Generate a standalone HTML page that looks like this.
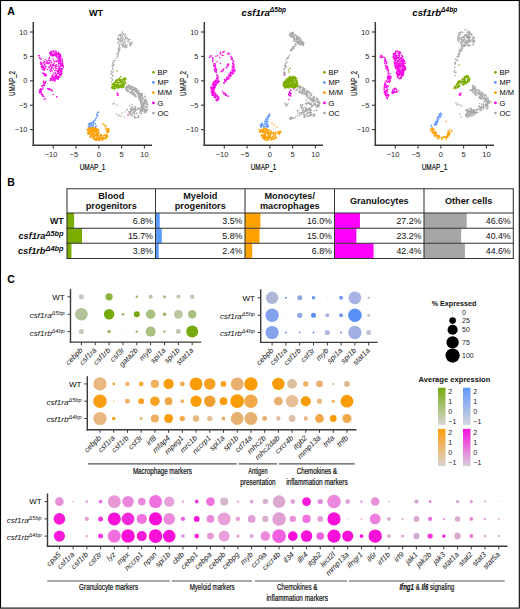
<!DOCTYPE html>
<html><head><meta charset="utf-8"><title>Figure</title>
<style>
html,body{margin:0;padding:0;background:#fff;}
svg{display:block;font-family:"Liberation Sans", sans-serif;}
</style></head><body>
<svg width="520" height="609" viewBox="0 0 520 609">
<rect x="0" y="0" width="520" height="609" fill="#fff"/>
<path d="M122.02 33.99h0M125.31 37.53h0M117.9 39.87h0M117.58 38.66h0M123.58 45.14h0M118.92 35.18h0M126.73 47.14h0M125.95 38.05h0M121.78 44.97h0M119.8 41.1h0M126.9 37.64h0M127.55 38.56h0M121.87 41.16h0M124.02 36.45h0M129.31 43.03h0M120.78 40.98h0M125.14 45.94h0M123.48 43.99h0M119.36 39.57h0M128.85 40.95h0M127.78 41.31h0M125.99 39.03h0M124.35 42.46h0M117.94 43.07h0M122.98 42.53h0M117.35 39.12h0M119 35.59h0M123.06 45.88h0M118.25 38.91h0M125.52 46.08h0M129.7 45.76h0M121.32 38.35h0M122.56 46.09h0M119.73 35.33h0M120.62 39.5h0M126.13 35.84h0M122.72 40.84h0M131.77 42.89h0M124.99 41.69h0M130.94 44.37h0M130.55 44.66h0M123.08 38.08h0M118.6 41.97h0M120.24 34.18h0M122.27 32.37h0M118.57 37.5h0M120.91 37.23h0M122.64 33.53h0M124.22 39.48h0M122.31 35.87h0M125.19 33.92h0M125.19 47.65h0M130.38 42.99h0M121.05 37.55h0M119.59 44.24h0M125.26 44.35h0M122.11 35.18h0M130.22 44.8h0M129.68 43.71h0M120.51 40.04h0M122.51 31.98h0M121.02 42.93h0M120.42 35.24h0M120.05 34.87h0M126.67 46.36h0M130.03 39.41h0M127.12 44.69h0M118.31 42.4h0M131.1 44.41h0M128.63 39.39h0M119.77 44.52h0M122.15 44.71h0M123.22 47.12h0M131.03 44.81h0M119.27 45.14h0M132.19 42.34h0M122.43 40.55h0M132.05 42.22h0M125.16 46.9h0M123.72 45.88h0M120.9 36.33h0M120.73 41.18h0M121.02 38.41h0M122.48 39.06h0M126.04 46.42h0M123.52 46.64h0M124.78 40.28h0M123.82 34.52h0M119.27 46.91h0M118.31 53.04h0M111.87 71.96h0M115.91 58.09h0M112.55 65.79h0M118.69 50.65h0M117.69 55.82h0M111.98 73.7h0M112.56 66.03h0M112.14 78.81h0M112.79 67.96h0M113.07 64.29h0M113.87 62.23h0M112.73 62.95h0M111.3 70.88h0M112.58 79.89h0M112.14 65.86h0M112.87 76.17h0M118.83 51.26h0M119.75 49.7h0M118.77 49.4h0M111.05 74.13h0M117.9 52.26h0M113.31 69.84h0M110.88 77.73h0M116.71 54.15h0M114.8 60.47h0M111.2 81.63h0M118.5 52.68h0M113.88 64.58h0M118.46 53.96h0M113.15 72.11h0M113.36 65.9h0M120.18 47.75h0M112.7 68.37h0M118.15 48.85h0M110.87 74.29h0M119.39 50.77h0M118.91 48.16h0M117.65 56.69h0M113.5 60.8h0M112.58 75.41h0M129.66 92.13h0M140.71 99.21h0M130 85.76h0M144.21 101.74h0M127.17 91.27h0M141.1 100.94h0M127.74 90.88h0M127.18 90.71h0M139.99 94.54h0M139.07 99.64h0M135.59 89.23h0M142.47 96.11h0M130.36 86.69h0M128.38 86.2h0M136.26 91.06h0M145.97 104.23h0M141.93 94.75h0M138.75 90.43h0M135.49 88.24h0M143.93 103.49h0M132.04 89.92h0M145.97 111.23h0M144.97 106.26h0M138.74 98.07h0M137.66 94.04h0M140.55 103.1h0M134.85 94.59h0M143.05 102.85h0M138.7 93.47h0M128.69 85.79h0M127.62 89.97h0M135.11 89.22h0M127.8 90.79h0M143.42 107.5h0M135.6 90.15h0M135.14 91.65h0M131.21 89.18h0M132.46 94.14h0M142.63 111.01h0M131.89 93.84h0M136 91.33h0M126.34 86.74h0M139.77 95.87h0M132.27 90.3h0M126.77 86.03h0M129.12 87.99h0M128.57 84.93h0M136.29 90.49h0M141.98 98.93h0M143.44 104.31h0M141.57 103.75h0M138.41 93.01h0M144.93 112.63h0M143.22 103.43h0M126.52 90.24h0M143.36 108.29h0M142.22 104.16h0M130.37 89.43h0M138.62 97.91h0M142.22 105.78h0M139.88 100.37h0M142.39 102.23h0M134.83 87.97h0M130.6 88.29h0M128.47 91.02h0M140.88 98.57h0M141.93 100.68h0M142.46 93.59h0M142.76 105.54h0M140.3 96.65h0M146.22 99.93h0M145.93 102.87h0M128.98 86.92h0M146.15 102.52h0M141.22 104.75h0M140.82 95.68h0M139.04 96.92h0M143.68 104.48h0M145.94 99.43h0M131.33 87.78h0M145.67 103.21h0M144.57 96.33h0M128.53 86.77h0M142.27 101.88h0M144.94 101.01h0M140.98 96.74h0M141.34 93.67h0M146.01 109.68h0M140.1 109.96h0M126.66 87.46h0M141.22 106.3h0M140.21 94.07h0M130.95 93.11h0M132.28 90.93h0M130.45 89.46h0M145.52 111.7h0M144.44 106.31h0M142.96 107.89h0M131.75 93.2h0M142.28 93.63h0M126.14 87.49h0M140.09 94.28h0M130.88 88.28h0M134.45 94.35h0M125.4 89.15h0M147.16 106.96h0M142.29 109.08h0M145.32 109.64h0M137.65 92.97h0M141.96 111.68h0M137.19 92.89h0M136.1 88.87h0M128.37 90.97h0M133.21 94.38h0M134.56 89.72h0M142.43 95.47h0M135.06 95.94h0M142.32 107.47h0M140.32 101.1h0M143.1 110.03h0M147.05 101.82h0M144.58 103.22h0M143.55 104.35h0M136.42 89.07h0M145.96 110.92h0M140.44 94.98h0M134.27 93.42h0M144.36 112.02h0M144.64 100.4h0M142.19 97.59h0M132.52 87.65h0M131.03 92.83h0M141.66 94.9h0M140.83 107.57h0M140.82 93.41h0M133.51 87.67h0M138.28 90.7h0M134.28 89.5h0M139.63 99.94h0M145.03 103.68h0M138.11 94.6h0M138.03 92.79h0M128.55 86.84h0M145.34 112.18h0M139.77 97.04h0M146.49 107.77h0M135.26 90h0M138.11 93.87h0M141.02 109.5h0M147.44 109.6h0M126.48 89.27h0M144.27 108.89h0M145.03 96.82h0M135.66 96.2h0M142.01 106.49h0M144.5 111.94h0M130.37 86.64h0M139.85 97.79h0M142.01 109.51h0M141.49 101.26h0M139.1 95.73h0M126.52 89.84h0M131.71 93.35h0M144.49 100.07h0M130.72 87.52h0M141.8 100.75h0M130.69 86.14h0M140.46 97.44h0M138.85 92.44h0M145.25 97.25h0M135.39 91.81h0M142.22 110.29h0M144.44 108.51h0M134.19 89.35h0M141.82 110.15h0M137.14 89.28h0M139.57 97.31h0M139.51 93.34h0M140.68 102.3h0M134.73 87.93h0M136.65 92.33h0M145.63 101h0M142.83 105.52h0M142.22 95.36h0M144.14 111.67h0M146.38 106.3h0M131.95 92.2h0M133.42 94.64h0M141.77 94.7h0M133.25 90.17h0M140.5 102.29h0M130.94 88.67h0M130.93 93.33h0M131.68 86.39h0M128.19 87.57h0M141.66 107.68h0M141 104.58h0M144.62 110.44h0M130.27 92.62h0M147.49 102.64h0M144.23 100.86h0M137.98 92.68h0M133.15 86.73h0M135.14 90.77h0M145.54 111.81h0M144.88 111.82h0M135.26 94.85h0M144.97 106.37h0M127.64 87.95h0M135.22 95.73h0M132.55 89.32h0M147.02 110.31h0M136.69 96.04h0M147.72 104.47h0M128.25 85.1h0M145.25 110.31h0M141.82 104.8h0M137.36 91.58h0M142.42 110.34h0M133.31 92.65h0M136.49 90.96h0M125.46 89.21h0M142.94 109.02h0M146.35 111.75h0M133.35 90.71h0M140.32 109.25h0M138.68 92.55h0M138.66 94.81h0M145.59 110.79h0M142.83 105.7h0M142.59 106.4h0M143.56 98.71h0M136.27 91.54h0M147.45 105.01h0M131.27 91.73h0M135.22 88.48h0M126.94 88.27h0M134.23 95.36h0M141.23 106.9h0M135.67 88.9h0M129.07 88.72h0M144.33 102.49h0M133.57 90.36h0M141.85 100.49h0M142.17 104.7h0M145.92 100.23h0M145.94 107.02h0M142.5 97.77h0M146.29 102.79h0M134.57 89.56h0M129.88 91.95h0M142.99 97.9h0M135.48 96.65h0M142.12 95.53h0M143.43 105.91h0M145.13 112.97h0M138.3 97.53h0M141.6 107.01h0M127.82 86.67h0M130.6 87h0M141.65 113.29h0M140.26 111.61h0M132.38 115.72h0M136.75 113.75h0M131.83 110.61h0M132.31 113.49h0M137.47 108.54h0M137.82 108.31h0M133.06 108.54h0M139.34 112.85h0M134.14 112.88h0M131.13 114.69h0M134.33 109.54h0M133.06 113.08h0M133.64 111.21h0M133.73 108.47h0M138.46 108.55h0M134.51 116.25h0M134.28 117.04h0M134.99 108.03h0M129.19 112.89h0M137.33 117.37h0M130.16 113.78h0M133.82 112.31h0M130.9 109.54h0M135.78 117.57h0M130.41 112.13h0M135.28 106.67h0M141.04 110.85h0M140.75 113.75h0M139.22 108.78h0M134.26 116.58h0M131.84 111h0M135.73 110.79h0M138.42 117.22h0M129.53 113.03h0M136.79 112.88h0M137.15 109.83h0M134.46 113.28h0M134.53 114.24h0M134.81 111.48h0M129.3 113.74h0M135.36 108.94h0M138.93 115.75h0M134.96 108.24h0M135.15 107.34h0M130.67 111.38h0M130.19 111.52h0M135.63 106.51h0M138.54 115.72h0M135.65 106.68h0M135.55 110.72h0M138.52 116.19h0M135.39 117.96h0M138.83 107.98h0M135.53 117.5h0M131.71 109.29h0M135.58 109.99h0M137.84 117.19h0M131.19 115.81h0M126.92 109.31h0M131.09 107.6h0M132.98 109.55h0M130.64 112.83h0M131.04 107.94h0M132.38 106.65h0M133.92 109.77h0M128.88 111.65h0M129.54 105.77h0M131.95 104.48h0M132.56 106.54h0M130.69 110.64h0M130.93 108.32h0M130.1 112.96h0M113 104h0M114 103.5h0M117 105h0M116.5 114h0M118 116h0M119.5 115h0M122 113h0M125 112h0M127 110h0M121 116h0M124 117h0" stroke="#a8a8a8" stroke-width="1.48" stroke-linecap="round" fill="none"/>
<path d="M121.12 76.79h0M114.48 84.09h0M120.13 79.15h0M120.67 82.67h0M113.09 88.68h0M112.48 84.8h0M117.23 79.94h0M119.72 81.05h0M121.01 82.27h0M114.85 88.25h0M117.29 79.59h0M111.9 86.63h0M125.58 78.35h0M114.09 84.41h0M118.86 84.84h0M123.61 78.77h0M115.8 80.4h0M111.75 88.06h0M123.14 85.8h0M122.55 82.55h0M122.5 82.38h0M116.2 86.25h0M121.77 87.49h0M122.03 79.96h0M119.58 82.17h0M123.22 83.3h0M115.11 84.85h0M125.96 79.32h0M122.57 80.75h0M124.64 80.77h0M114.71 88.3h0M120.78 85.51h0M118.28 87.42h0M121.81 87.65h0M117.78 85.92h0M119.84 80.5h0M114.29 84.59h0M112.21 88.34h0M112.65 88.58h0M121.74 84.74h0M121.8 86.08h0M112.02 84.18h0M116.63 87.13h0M112.02 87.78h0M124.14 87.06h0M120.83 87.23h0M120.79 80.24h0M122.74 79.16h0M115.95 82.01h0M115.38 85.8h0M116.7 80.67h0M125.94 83.05h0M124.2 84.54h0M117.76 86.55h0M116.38 85.66h0M119.34 79.32h0M124.36 77.68h0M123.71 78.71h0M118.62 86.86h0M113.86 82.93h0M116.38 87.31h0M115.04 88.77h0M121.84 82.98h0M112.7 84.77h0M112.25 86.74h0M121.81 86.73h0M120.73 81.12h0M117.22 81.63h0M124.97 83.02h0M116.88 87.99h0M114.62 82.49h0M119.24 86.31h0M122.67 84.9h0M116.4 80.75h0M113.41 87.46h0M121.26 86.15h0M122.99 84.03h0M124.72 79.59h0M121.9 87.47h0M119.09 78.59h0M122.37 82.15h0M114.04 84.79h0M117.18 86.78h0M121.75 83.01h0M120.8 82.52h0M113.2 84.35h0M117.27 86.13h0M125.07 82.09h0M119.9 86.24h0M117.53 79.47h0M123 85.6h0M124.21 85.33h0M120.94 82.4h0M115.85 84.67h0M123.13 85.77h0M120.76 79.75h0M117.57 82.42h0M120.63 81.82h0M113.84 85.01h0M123.06 81.55h0M113.49 86.66h0M125.58 83.25h0M112.57 83.97h0M119.39 85.82h0M118.94 84.81h0M123.85 83.28h0M114.26 85.4h0M117.08 86.42h0M115.25 81.7h0M117.52 85.58h0M116.46 79.95h0M114.48 86.14h0M125.57 83.35h0M114.39 86.92h0M113 86.6h0M123.55 84.75h0M118.27 83.81h0M114.5 89.03h0M116.47 84.8h0M123.69 87.11h0M118.26 80.33h0M119.5 78.13h0M123.92 81.11h0M124.19 79.98h0M116.83 79.8h0M115.68 82.73h0M117.64 84.78h0M121.22 81.21h0M111.88 87.26h0M113.18 87.31h0M120.81 76.69h0M121.17 79.75h0M114.62 86.59h0M113.6 88.08h0M120.43 86.66h0M123.22 87.4h0M114.06 85.51h0M119.23 86.14h0M117.8 87.97h0M119.6 79.94h0M118.62 82.98h0M119.36 87.72h0M118.25 83.81h0M121.31 87.43h0M116.81 81.94h0M120.87 84.77h0M118.91 82.8h0M122.13 84.63h0M116.25 87.7h0M116.68 82.67h0M117 71h0" stroke="#7aad00" stroke-width="1.48" stroke-linecap="round" fill="none"/>
<path d="M59.7 66.74h0M57.92 54.78h0M60.57 62.65h0M57.33 78.31h0M56.9 77.98h0M62.1 65.87h0M58.72 65.98h0M58.69 71.45h0M60.93 58.72h0M59.25 58.03h0M58.92 70.7h0M51.87 54.75h0M54.54 78.6h0M51.54 52.72h0M49.72 52.82h0M53.08 78.81h0M58.67 71.59h0M53.52 78.64h0M59.83 70.17h0M59 73.16h0M60.94 73.32h0M60.07 72.34h0M59.72 77.01h0M58.44 52.59h0M56.5 74.76h0M60.65 71.99h0M55.67 76.61h0M62.08 68.48h0M60.03 57.84h0M60.24 58.47h0M58.16 70.79h0M52.17 53.85h0M50.85 52.04h0M56.75 76.91h0M53.46 79.51h0M50.34 53.6h0M58.62 68.85h0M51.11 78.48h0M62.67 61.99h0M61.49 71.74h0M56.23 51.4h0M50.48 55.06h0M54.28 55.69h0M53.03 55h0M55.33 51.25h0M60.2 74.68h0M60.22 75.3h0M52.34 54.84h0M57.58 73.3h0M60.73 75.36h0M59.33 70.54h0M58.92 64.14h0M57.35 57.8h0M61.25 75.03h0M50.8 54.78h0M58.34 78.71h0M58.8 58.73h0M56.11 55.49h0M63.11 65.17h0M60.2 60.49h0M60.07 63.38h0M55.33 55.05h0M59.84 60.36h0M60.68 70.92h0M59.28 61.34h0M53.09 77.89h0M61.87 68.63h0M53.06 55.6h0M57.87 72.98h0M59.66 59.29h0M52.07 77.05h0M61.46 69.94h0M59.01 63.1h0M59.72 60.92h0M58.72 69.28h0M57.87 77.76h0M49.67 53.21h0M60.42 62.68h0M55.48 76.08h0M52.14 55.22h0M55.67 76.02h0M61.91 68.85h0M55.4 76.95h0M57.78 72.13h0M62.2 58.9h0M59.57 67.87h0M56.56 55.55h0M52.26 80.45h0M59.69 69.73h0M62.41 64.33h0M58.09 57.1h0M57.66 76.73h0M53.06 54.7h0M59 76.87h0M58.93 68.42h0M54.59 78.7h0M60.57 64.78h0M58.13 53.34h0M56.16 54.83h0M60.23 60.29h0M60.65 61.84h0M56.1 51.51h0M50.3 78.58h0M53.93 54.01h0M58.87 77.57h0M61.33 69.75h0M63.3 66.5h0M52.07 56.05h0M55.37 78.6h0M62.01 68.68h0M58.12 76.46h0M53 77.93h0M55.14 75.93h0M60.49 54.65h0M58.51 53.64h0M53.52 51.1h0M59.27 67.59h0M58.85 64.05h0M54.42 81.11h0M61.08 69.72h0M54.21 55.64h0M58.72 56.43h0M58.06 70.72h0M60.32 72.56h0M62.58 63.45h0M52.85 76.61h0M59.57 53.74h0M59.48 55.77h0M53.3 77.22h0M57.93 79.41h0M56.91 75.77h0M57.87 70.92h0M51.51 51.93h0M56.56 74.67h0M60.62 73.01h0M59.46 69.04h0M54.15 52.54h0M60.68 55.63h0M62.59 64.97h0M59.69 54.57h0M61.87 73.58h0M60.44 74.69h0M52.06 55.73h0M56.5 56.75h0M54.68 76.8h0M55.41 53.36h0M53.33 55.34h0M55.71 77.7h0M61.74 63.72h0M56.76 77.61h0M61.97 71.18h0M59.51 53.8h0M58.91 73.88h0M55.26 55.39h0M59.54 56.5h0M56.18 52.63h0M56.84 78.56h0M56.48 53.75h0M58.13 59.3h0M53.97 55.7h0M52.79 55.3h0M61.14 72.86h0M62.03 64.82h0M60.34 55.8h0M58.2 60.61h0M51.56 76.26h0M53.87 52.32h0M54.94 80.95h0M59.86 74.84h0M50.11 80.45h0M57.68 77.56h0M55.79 51.25h0M56.34 77.72h0M57.21 54.07h0M54.09 80.44h0M62.55 68.98h0M55.91 55.05h0M60.52 74.48h0M52.3 51.35h0M60.52 70.01h0M60.57 56.41h0M59.49 69.91h0M56.69 76.93h0M58.93 53.28h0M59.26 74.86h0M60.99 75.11h0M57.6 77.69h0M54.88 76.93h0M63.33 65.44h0M53.72 79.25h0M55.51 79.68h0M55.87 55.42h0M62.16 60.22h0M60.12 60.64h0M50.21 54.33h0M60.87 63.56h0M54.44 54.49h0M55.55 76.17h0M59.03 59.07h0M59.43 61.14h0M52.92 55.14h0M52.09 78.92h0M60.85 66.25h0M63.3 67.22h0M50.99 79.79h0M58.24 52.85h0M57.75 57.2h0M50.46 52.07h0M60.73 74.02h0M50.83 54.5h0M60.7 68.73h0M61.08 74.33h0M54.86 77.61h0M51.08 51.98h0M61 65.46h0M61.03 56.47h0M62.47 61.74h0M58.98 68.93h0M55.6 54h0M60.11 75.83h0M55.04 76.22h0M61.04 61.24h0M56.15 77.95h0M58.59 61.82h0M58.49 76.67h0M59.1 55.28h0M58.6 63.43h0M55.7 75.66h0M55.65 76.18h0M52.04 53.64h0M52.99 77.01h0M59.05 55.83h0M60.9 71.1h0M63.07 66.95h0M60.86 63.05h0M57.21 71.53h0M56.9 68.66h0M55.69 73.69h0M54.09 61.32h0M54.45 61.47h0M53.15 74.49h0M53.9 61.01h0M52.94 64.67h0M57.03 61.75h0M50.9 68.95h0M49.14 67.89h0M57.08 66.28h0M50.55 65.33h0M53.07 58.97h0M49.18 58.63h0M50.79 64.13h0M50.74 60.87h0M48.83 66.93h0M55.98 68.2h0M53.42 69.01h0M49.91 70.21h0M52.38 66.96h0M53.82 65.38h0M50.95 60.85h0M50.11 66.25h0M51.64 67.71h0M48.11 63.05h0M56.19 60.77h0M53.29 65.83h0M50.81 71.44h0M49.51 57.34h0M56.28 64.8h0M48.59 63.76h0M52.18 70.71h0M49.04 60.5h0M57.11 70.77h0M49.47 62.74h0M51.35 69.51h0M53.85 73h0M55.8 66.36h0M55.02 70.87h0M55.22 65.5h0M55.46 70.17h0M55.27 67.72h0M52.73 75.25h0M53.43 64.36h0M55.45 73.46h0M53.77 63.59h0M52.3 65.16h0M54.87 61.86h0M51.71 67.11h0M51.65 62.44h0M55.48 72.99h0M52.75 64.88h0M49.75 62.08h0M39.82 58.61h0M43.85 67.47h0M45.44 74.27h0M43.31 73.67h0M46.19 74.79h0M40.95 64.55h0M39.14 55.39h0M42.66 67.25h0M44.39 74.97h0M41.2 66.85h0M42.48 66.22h0M43.29 69.83h0M41.45 62.88h0M40.45 62.97h0M42.89 69.68h0M39.63 57.48h0M41.77 63.77h0M41.63 67.58h0M45.6 75.33h0M41.8 64.65h0M46.32 75.69h0M41.68 66.6h0M40.68 58.8h0M44.98 76.11h0M43.6 65.97h0M44.27 74.37h0M42.59 73.12h0M44.82 73.84h0M40.63 58.48h0M42.5 66.09h0M41.18 59h0M42.55 68.7h0M40.34 63.05h0M44.12 68.65h0M41.21 64.15h0M40.9 61.95h0M38.48 55.72h0M43.88 73.25h0M41.68 93.6h0M40.71 90.27h0M42.83 85.5h0M39.23 91.22h0M40.89 91.93h0M45.2 82.87h0M43.02 95.18h0M45.28 82.39h0M39.83 90.45h0M40.02 92.95h0M45.89 81.66h0M42.69 95.7h0M41.93 94.71h0M44.66 83.85h0M43.44 81.92h0M41.08 92.07h0M41.58 89.5h0M43.72 80.95h0M39.51 92.34h0M41.14 89.02h0M44.4 85.86h0M44.21 99.21h0M41.75 86.18h0M43.29 96.52h0M39.58 92.78h0M39.81 89.76h0M43.66 85.33h0M42.25 94.58h0M41.86 86.1h0M40.29 89.72h0M44.15 85.59h0M42.97 87.89h0M45.86 98.67h0M41.6 91.51h0M40.8 91.01h0M42.8 88.93h0M43.51 82.49h0M42.9 87.68h0M44.42 84.41h0M44.54 85.63h0M41.4 93.89h0M43.63 83.27h0M45.08 82.17h0M43.77 96.38h0M40.6 88.84h0M51.79 90.06h0M48.61 89.08h0M48.49 89.46h0M47.61 88.57h0M49.93 89.35h0M49.76 88.98h0M51.05 89.97h0M52.25 90.89h0M49.2 88.66h0M50.38 89.67h0M53.3 94.5h0M56.5 96.5h0M57 97h0M48.23 59.96h0M46.08 66.68h0M44.62 70.35h0M45.31 68.52h0M46.41 62.97h0M45.34 59.38h0M44.93 68.6h0M43.65 66.99h0M45.17 66.01h0M44.87 61.62h0M44.69 64.45h0M43.79 62.42h0M46.98 63.62h0M45.48 68.55h0M47.2 61.97h0M48.08 63.63h0M46.77 60.91h0M47.4 69.4h0M43.97 61.17h0M44.82 64.09h0M43.24 62.97h0M46.83 60.87h0M118.18 94.71h0M117.93 93.76h0M117.37 95.05h0M117.2 93h0M118.17 95.33h0M117.07 93.13h0M118.21 94.82h0M128 115h0" stroke="#f808e6" stroke-width="1.48" stroke-linecap="round" fill="none"/>
<path d="M98.57 112.35h0M97.43 112.99h0M96.7 114.44h0M93.74 122.57h0M93.93 121.6h0M92.89 121.85h0M97.51 115.91h0M90.78 124.12h0M90.77 123.64h0M92.98 121.74h0M94.52 120.71h0M97.9 112.2h0M96.03 117.89h0M91.27 124.33h0M93.66 122.77h0M93.36 121.31h0M96.96 115.39h0M90.29 124.06h0M95.56 119.72h0M98.34 112.46h0M96.57 117.86h0M97.3 116.34h0M93.48 121.49h0M97.51 115.18h0M95.5 119.18h0M90.98 124.12h0M90.69 127.75h0M89.28 125.66h0M91 127.3h0M92.93 126.94h0M89.52 126.33h0M93.39 125h0M94.9 127.4h0M89.03 123.88h0M91.24 123.34h0M88.54 123.83h0M89.77 126.56h0M92.03 122.73h0M90.92 125.05h0M91.27 123.09h0M88.76 126.66h0M88.98 125.18h0M91.91 123.23h0M96.28 126.19h0M93.65 128.08h0M93.87 123.63h0M90.21 122.9h0M88.25 127.03h0M95.56 123.93h0M89.67 126.15h0M95.61 128.02h0M89.52 127.1h0M95.47 126.83h0M90.94 123.2h0M95.43 124.08h0M91.32 125.58h0M91.32 127.4h0M93.1 126.08h0M95.38 126.59h0M92.45 125.25h0M89.42 123.95h0" stroke="#5f98fb" stroke-width="1.48" stroke-linecap="round" fill="none"/>
<path d="M96.25 140.11h0M88.47 128.02h0M96.17 129.98h0M105 138.62h0M92.73 136.1h0M97.82 132.98h0M93.95 133.2h0M101.15 138.24h0M93.01 133.26h0M98.89 132.03h0M90.8 128.61h0M93.62 133.49h0M107.66 135.56h0M101.38 135.42h0M93.03 134.92h0M94.05 139.01h0M87.11 129.95h0M94.68 135.05h0M95.66 134.39h0M98.93 132.65h0M89.01 129.85h0M106.08 134.63h0M92.08 128.73h0M98.18 130.77h0M97.26 134.7h0M91.48 134.95h0M88.99 134.17h0M95.48 128.46h0M96.17 138.73h0M98.61 136.79h0M95.12 129.73h0M91.71 132.34h0M91.19 131.4h0M106.05 135.58h0M105.69 134.82h0M106.69 138.82h0M90.2 137.19h0M94.01 137.43h0M101.47 138.23h0M89.2 132.35h0M102.72 139.82h0M98.57 137.94h0M90.75 133.31h0M104.94 135.06h0M90.58 134.71h0M92.88 136.43h0M94.88 129.38h0M105.76 134.5h0M101.67 138.01h0M94.03 129.46h0M97.54 138.85h0M96.97 129.56h0M105.71 135.44h0M88.17 131.78h0M90.23 132.19h0M96.79 135h0M95.03 132.1h0M93.84 127.77h0M96.61 140.32h0M87.5 129.4h0M92.51 134h0M92.27 134.9h0M98.12 139.94h0M98.83 137.52h0M105.69 137.57h0M100.43 135.75h0M94.48 131.16h0M104 138.85h0M107.15 136.36h0M93.19 137.42h0M98.62 132.78h0M87.83 131.88h0M97.09 132.27h0M91.86 130.55h0M94.18 129.26h0M96.47 133.29h0M90.22 128.36h0M93.13 131.51h0M106.77 135.08h0M88.26 129.82h0M99.27 140.34h0M94.35 137.57h0M95.92 138.79h0M87.99 133.8h0M92.17 127.8h0M90.12 130.98h0M95.29 130.1h0M99.76 138.73h0M102.65 140.02h0M104.31 138.88h0M94.01 129.28h0M90.64 134.48h0M105.76 135.82h0M93.69 137.24h0M87.76 132.89h0M93.86 133.93h0M106.86 134.83h0M100.01 136.91h0M93.74 128.71h0M89.94 129.35h0M98.35 135.15h0M98.71 136.05h0M102.15 137.42h0M96.47 131.12h0M98.01 139.73h0M96.97 136.02h0M87.11 129.24h0M87.82 134.02h0M98.72 129.86h0M89.78 129.81h0M102.73 139.48h0M90.07 127.88h0M93.62 139.25h0M95.34 138.73h0M95.52 139.45h0M107.29 135.65h0M91.43 130.78h0M92.27 133.14h0M91.59 130.14h0M103.2 135.86h0M91.27 134.9h0M103.03 138.2h0M92.72 131.81h0M97.18 139.08h0M90.06 136.38h0M99.24 138.98h0M94.43 137.64h0M93.05 127.82h0M88.65 129.69h0M93.97 139.44h0M102.26 138.97h0M91.66 137.8h0M97.61 130.51h0M95.97 128.86h0M93.46 138.92h0M89.15 133.84h0M89.49 133.07h0M90.44 136.41h0M97.52 128.96h0M94.28 133.95h0M105.93 137.01h0M92.51 129.8h0M92.32 128.4h0M95.48 134.74h0M101.64 135.99h0M98.47 134.63h0M101.69 140.27h0M105.73 136.83h0M95.28 131.64h0M95.72 140.15h0M95.02 132.51h0M95.52 129.36h0M99.87 139.54h0M92.1 135.44h0M94.79 130.63h0M90.87 129.01h0M105.05 137.69h0M100.72 134.64h0M99.53 140.43h0M91.66 135.68h0M98.08 135.47h0M100.34 134.56h0M91.41 135.46h0M96.91 136.88h0M97.98 133.7h0M91.37 129.35h0M98.03 134.36h0M96.63 135.83h0M104.7 139.12h0M94.89 138.32h0M89.88 130.77h0M88.76 132.14h0M96.46 128.64h0M97.02 137.88h0M97.96 130.59h0M94.66 131.92h0M90.92 134.92h0M87.77 129.82h0M93.63 130.64h0M100.5 138.67h0M90.94 133h0M103.93 135.53h0M94.68 128.07h0M96.24 132.27h0M95.47 135.93h0M94.98 135.02h0M107.87 136.75h0M94.69 136.15h0M93.75 128.42h0M98.07 133.96h0M106.33 137.34h0M96.68 133.51h0M96.92 139.07h0M96.18 133.89h0M97.76 138.22h0M101.25 137.13h0M95.34 128.03h0M101.46 134.7h0M103.42 137.51h0M89.1 130.37h0M88.74 128.65h0M95.69 135.09h0M93.86 134.24h0M92.54 130.91h0M93.39 130.82h0M105.89 126.64h0M104.62 125.44h0M102.88 123.92h0M105.7 126.96h0M106.15 126.28h0M103.71 124.07h0M104.76 125.46h0M107 131.18h0M107.51 130.38h0M108.45 129.3h0M108.95 131.61h0M107.29 130.66h0M107.43 130.1h0M108.45 131.85h0M108.71 128.47h0M107.56 129.17h0M108.97 131.65h0M108.44 131.24h0M107.9 132.39h0M106.27 129.37h0M108.6 128.95h0M108.95 129.34h0M105.43 128.62h0M106.78 132.28h0M107.95 129.01h0M106.26 129.51h0M107.5 130.07h0M107.41 129h0M108.92 130.11h0" stroke="#fe9e00" stroke-width="1.48" stroke-linecap="round" fill="none"/>
<path d="M294.39 40.79h0M293.01 36.55h0M300.13 38.7h0M297.77 39.34h0M293.66 38.02h0M293.12 32.51h0M297.05 42.93h0M297.73 38.19h0M293.97 36.93h0M290.81 32.86h0M296.19 39.27h0M296.36 36.82h0M291.56 37.35h0M291.65 33.34h0M297.34 41.49h0M290.88 35.33h0M296.53 35.73h0M297.73 42.87h0M298.08 41.53h0M293.84 33.54h0M291.57 34.68h0M303.96 42.98h0M295.94 38.71h0M300.58 44.67h0M300.15 40.73h0M301.61 42.91h0M293.91 33.85h0M301.34 45.09h0M302.52 42.3h0M301.4 43.13h0M297.65 37.81h0M301.29 42.87h0M303.51 42.92h0M292.1 34.37h0M295.6 34.93h0M299.12 41.8h0M300.8 41.4h0M303.1 43.47h0M298.61 43.63h0M293.76 40.13h0M301.46 43h0M297.87 38.13h0M293.7 34.6h0M289.86 35.43h0M299.37 37.91h0M298.75 43.2h0M291.35 35.44h0M294.61 38.75h0M292.39 36.61h0M302.35 41.16h0M294.11 41.09h0M298.29 36.95h0M296.59 41.31h0M299.09 39.58h0M302.31 42.07h0M293.54 33.49h0M303.27 44.43h0M296.94 37.6h0M300.98 41.31h0M299.5 41.52h0M292.8 33.85h0M297.42 43.48h0M293.34 32.28h0M293.11 37.05h0M303.49 45.45h0M291.4 35.99h0M293.47 37.86h0M290.18 35.27h0M294.61 37.09h0M298.38 42.79h0M293.38 33.71h0M300.23 38.32h0M297.16 41.22h0M296.7 35.68h0M301.31 39.71h0M292.62 35.03h0M300.18 41.33h0M290.22 35.95h0M298.33 41.53h0M303.08 42.27h0M293.8 37.19h0M296.74 39.06h0M298.88 44.57h0M290.57 36.41h0M298.85 39.88h0M294.76 39.82h0M300.72 43.66h0M300.19 38.76h0M302.42 44.53h0M300.02 43.4h0M298.56 44.24h0M299.41 40.38h0M292.76 32.48h0M297.85 43.45h0M292.73 34.59h0M291.97 32.86h0M290.65 35.49h0M297.1 43.21h0M290.21 34.75h0M298.26 36.43h0M293.63 39.74h0M298.27 42.01h0M297.57 37.3h0M296.44 40.04h0M303.93 43.16h0M295.54 41.4h0M299.48 38.09h0M293.8 34.25h0M294.74 35.6h0M296.5 37.86h0M291.55 35.35h0M297.18 41.67h0M303.2 44.84h0M299.7 41.93h0M289.47 34.48h0M299.69 40.64h0M292.59 36.65h0M302.63 43.02h0M290.49 33.08h0M297.23 38.87h0M292.01 50.14h0M294.9 44.1h0M284.63 65.79h0M285.04 75.31h0M285.53 66.82h0M284.14 69.4h0M293.98 48.32h0M291.38 49.87h0M289.44 55.32h0M284.17 70.05h0M288.47 57.88h0M284.45 72.16h0M294.8 46.19h0M285.48 62.92h0M287.14 58.3h0M292.1 50.05h0M284.83 72.71h0M293.68 46.8h0M293.84 47.89h0M287.48 57.37h0M285.72 63.41h0M288.63 57.06h0M286.24 66.71h0M287.72 57.95h0M285.4 64.64h0M290.74 50.52h0M285.71 65.41h0M292.38 47.47h0M287.29 62.46h0M290.22 50.08h0M291.38 50.52h0M284.27 68.58h0M285.68 63.31h0M295.85 45.56h0M284.3 75.25h0M295.92 45.6h0M290.28 50.2h0M291.13 49.93h0M284.42 73.62h0M285.12 73.15h0M293.56 48.86h0M285.87 67.79h0M284.47 75.12h0M291.59 48.85h0M292.57 48.53h0M293.33 46.61h0M283.7 72.28h0M295.39 43.64h0M286.18 60.63h0M287.02 58.92h0M310.68 98.64h0M300.24 86.63h0M311.46 95.36h0M308.78 91.3h0M317.25 98.58h0M314.97 103.41h0M309.9 92.87h0M314.18 96.89h0M309.23 92.34h0M317.56 106.39h0M307.41 91.01h0M313.03 101.2h0M318.71 101.29h0M307.08 92.3h0M316.97 99.43h0M310.28 99.7h0M317.76 99.08h0M300.01 86.91h0M313.57 99.41h0M310.26 95.66h0M307.03 94.49h0M311.48 100.19h0M313.33 101.07h0M315.42 105h0M316.72 97.93h0M312.47 100.47h0M306.71 96.2h0M300.55 92.74h0M307.55 95.52h0M304.27 90.41h0M306.54 92.09h0M299.65 88.94h0M316.97 106.68h0M315.99 105.44h0M314.22 104.23h0M316.19 99.66h0M303.83 90.92h0M298.27 86.83h0M314.74 104.36h0M304.57 94h0M313.63 102.4h0M315.69 101.58h0M298.89 91.13h0M304.68 93.04h0M306.29 93.46h0M319.73 105.53h0M309.78 96.77h0M308.87 98.26h0M306.03 96h0M312.24 101.18h0M300.13 87.64h0M303.11 94h0M298 86.89h0M312.1 101.37h0M301.81 89.99h0M313.21 99.83h0M313.77 101.23h0M304.31 90.13h0M297.22 89.39h0M303.16 89.46h0M316.91 106.19h0M311.14 97.91h0M311.15 98.22h0M306.32 90.07h0M300.06 86.28h0M307.47 91.4h0M299.99 89.45h0M316.69 106.4h0M303.22 93.09h0M302.76 88.2h0M305.15 91.78h0M314.19 98.73h0M316.62 98.44h0M318.43 104.84h0M318.76 100.66h0M317.76 101.28h0M315.46 103.97h0M314.39 97.6h0M298.09 86.47h0M319.31 103.79h0M312.96 98.84h0M314.53 96.97h0M301.86 87.73h0M318.56 106.34h0M312.87 98.63h0M304.05 88.6h0M296.44 90.09h0M299.18 92.2h0M305.59 94.33h0M299.87 91.37h0M304.03 90.72h0M311.61 94.11h0M302.52 92.81h0M304.8 91.34h0M316.64 99.76h0M302.86 89.05h0M307.28 92.88h0M312.98 97.97h0M319.69 102.62h0M312.13 100.09h0M304.74 88.76h0M309.44 92.52h0M307.98 95.85h0M300.49 87.18h0M310.38 93.6h0M303.27 90.75h0M301.28 87.24h0M306.37 93.02h0M317.23 105.27h0M299.63 87.45h0M314.65 100.5h0M314.38 103.97h0M318.84 101.55h0M317.45 105.43h0M304.39 89.55h0M318.71 102.72h0M299.82 87.83h0M317.69 104.77h0M316.77 98.44h0M309.12 93.77h0M301.97 91.58h0M307.53 91.28h0M317.99 106.52h0M303.05 87.75h0M313.09 98.38h0M297.72 88.16h0M314.71 100.32h0M303.16 91.1h0M311.47 98.14h0M300.01 91.54h0M316.21 105.8h0M317.59 102.46h0M319.16 103.76h0M302.71 91.51h0M319.73 103.58h0M303.96 88.37h0M309.37 92.65h0M301.38 91.86h0M309.9 99.09h0M306.67 94.74h0M296.13 90.57h0M303.21 90.97h0M308.21 97.82h0M307.6 97.66h0M313.48 96.4h0M317.97 101.31h0M318.25 106.92h0M301.72 93.45h0M305.61 92.07h0M305.26 93.73h0M299.57 114.9h0M301.67 108.17h0M308.36 112.81h0M307.49 110.47h0M308.88 108.14h0M305 115.99h0M310.56 115.48h0M316.72 107.34h0M302.37 105.2h0M305.24 109.53h0M314.67 114.53h0M310.38 109.23h0M310.48 110.55h0M313.62 116.18h0M308.55 103.27h0M311.23 104.6h0M301.2 106.59h0M307.53 112.19h0M297.62 113.34h0M309.73 108.49h0M310.79 114.39h0M310.91 112.76h0M310.25 103.24h0M301.12 107.75h0M305 117.31h0M312.18 106.47h0M310.59 113.8h0M300.73 104.79h0M304.94 107.57h0M297.71 110.48h0M316.73 110.39h0M303.82 112.68h0M305.62 103.16h0M306.6 100.32h0M310.87 102.9h0M304.13 117.32h0M312.87 115.04h0M310.13 111.42h0M300.32 113.79h0M302.62 104.6h0M314.07 110.82h0M314.69 115.75h0M308.95 103.57h0M311.96 104.9h0M299.81 112.53h0M301.83 112.8h0M303.38 109.4h0M303.04 107.51h0M306.53 104.65h0M309.73 112.54h0M301.78 114.25h0M312.03 106.15h0M306.82 103.39h0M316.44 110.09h0M311.24 106.93h0M311.77 104.13h0M313.54 114.44h0M298.07 110.55h0M300.21 112.74h0M313.69 114.24h0M310.6 110.17h0M308.81 101.94h0M309.95 104.34h0M301.69 107.62h0M307.73 113.04h0M300.86 105.23h0M310.08 112.44h0M309.52 116.23h0M300.5 105.6h0M310.58 104.69h0M312.97 114.89h0M313.48 105.57h0M302.94 112.98h0M297.22 110.97h0M307.3 102.72h0M307.08 108.98h0M303.32 112.07h0M307.73 110.63h0M309.88 112.29h0M302.77 110.87h0M307.32 109.53h0M309.35 109.22h0M305.5 111.77h0M309.84 114.7h0M306.09 111.47h0M308.81 108.05h0M307.01 113.37h0M303.42 111.66h0M308.81 110h0M310.48 111.37h0M302.94 110.94h0M302.56 109.88h0M303.8 112.32h0M303.91 114.65h0M306.68 110.38h0M303.36 109.43h0M304.86 114.41h0M307.2 116.56h0M308.64 109.89h0M307.12 114.16h0M310.07 108.3h0M304.13 116.58h0M305.73 109.48h0M304.81 111.69h0M311.4 110.21h0M303.9 114.45h0M305.76 108.88h0M306.6 115.22h0M311.49 112.75h0M308.67 115.99h0M311.33 115.19h0M304.93 110.66h0M306.12 110.53h0M306.16 108.1h0M304.5 116.1h0M295.39 117.08h0M290.08 118.07h0M297.09 116.01h0M290.85 117.27h0M291.82 117.64h0M291.2 119.09h0M292.84 118.35h0M290.98 119.45h0M294.14 118.14h0M291.06 118.88h0M290.5 117.73h0M290.55 119.54h0M289.53 118.24h0M292.44 117.75h0M299.29 115.7h0M285 103h0M286 104h0M287 105h0M288 104h0M286.5 106h0M285.5 105h0" stroke="#a8a8a8" stroke-width="1.48" stroke-linecap="round" fill="none"/>
<path d="M291.33 81.39h0M288.16 85.54h0M294.89 86.65h0M286.25 79.92h0M295.11 78.48h0M294.26 78.12h0M290.02 80.7h0M295.2 87.72h0M287.71 83.63h0M296.6 81.58h0M296.67 84.92h0M287.74 86.7h0M291.71 76.94h0M291.93 86.13h0M290.88 81.75h0M289.33 86.78h0M293.12 78.24h0M288.51 80.21h0M297.57 84.44h0M284.9 87.21h0M283.53 83.1h0M289.57 84.71h0M289.53 76.77h0M290.96 86.02h0M294.99 80.13h0M286.38 85.06h0M295.19 78.38h0M289.59 80.43h0M293.79 87.41h0M286.07 79.43h0M288 84.9h0M285.84 82.55h0M290.6 84.09h0M285.18 87.75h0M295.09 77.93h0M296.83 82.6h0M294.54 86.63h0M288.5 87.33h0M290.64 87.01h0M291.51 77.42h0M292.59 85.8h0M289.44 83.25h0M286.94 79.11h0M289.39 82.12h0M290.12 76.77h0M293.9 85.1h0M290.85 77.83h0M292.16 87.08h0M286.07 83.04h0M293.96 85.12h0M293.82 84.62h0M287.14 86.25h0M295.11 84.21h0M285.16 81.44h0M288.11 85.34h0M285.45 80.81h0M292.4 79.45h0M287.8 82.01h0M285.79 81.69h0M290.17 78.11h0M292 77.44h0M293.66 87.88h0M289.13 80.1h0M289.46 80.07h0M293.5 80.58h0M285.32 86.58h0M295.91 84.85h0M288.39 83.6h0M296.99 80.7h0M289.57 79.39h0M291.42 84.02h0M294.17 87.66h0M295.94 85.65h0M291.97 84.2h0M288.17 87.6h0M291.35 80.71h0M296.64 85.77h0M290.29 81.9h0M288.52 86.97h0M288.32 82.36h0M297.13 83.72h0M290.25 79.82h0M288.88 83.34h0M294.95 78.91h0M288.63 80.52h0M288.52 87.19h0M291.19 79.1h0M288.05 86.03h0M285.44 84.36h0M283.9 85.83h0M294.15 84.75h0M291.37 87.31h0M284.36 87.35h0M289.6 78.05h0M294.37 86.5h0M296.27 85.17h0M293.77 83.6h0M285.75 83.34h0M293.22 87.91h0M289.6 80.56h0M293.73 77.82h0M288.34 84.96h0M283.9 82.33h0M289.68 85.64h0M291.75 81.34h0M296.4 83.23h0M288.12 80.63h0M297.34 86.51h0M296.91 82.72h0M288.83 84.37h0M283.07 85.79h0M294.95 82.14h0M283.09 85.74h0M289.29 84.1h0M291.66 84.85h0M292.35 79.62h0M288.72 79.02h0M296.74 85.66h0M294.98 86.03h0M287.84 85.22h0M286.99 83.36h0M285.41 86.49h0M290.43 79.09h0M297.14 85.21h0M285.27 85.27h0M291.71 87.12h0M291.92 81.03h0M296.24 81.21h0M294.04 78.86h0M294.1 83.84h0M284.48 81.87h0M293.97 78.32h0M292.95 79.13h0M288.63 87.28h0M289.49 82.86h0M295.29 85.23h0M289.93 86.57h0M289.1 87.67h0M290.19 77.11h0M294.39 77.44h0M293.33 76.28h0M294.25 77.27h0M292.68 80.38h0M286.79 85.95h0M284.32 86.41h0M290.06 81.56h0M293.92 84.86h0M288.22 87.45h0M295.38 77.13h0M285.83 81.95h0M288.11 77.68h0M297.13 81.62h0M294.95 78.78h0M296.87 78.41h0M296.78 83.38h0M297.76 85.39h0M292.59 82.37h0M295.99 81.23h0M284.49 87.2h0M295.25 84.26h0M294.32 78.55h0M290.04 86.05h0M285.44 84.29h0M291.42 80.75h0M290.15 81.86h0M287.07 80.27h0M291.42 85.28h0M291.96 77.66h0M296.47 80.27h0M285.13 83h0M291.32 79.59h0M292.57 82.75h0M297.41 84.31h0M288.51 87.66h0M292.64 82.5h0M296.11 84.11h0M288.48 83.28h0M286.71 87.96h0M291.41 78.21h0M290.71 77.1h0M295.72 84.1h0M293.4 87.37h0M289.32 87.06h0M291.96 86.07h0M285.72 86.17h0M284.55 87.44h0M287.07 86.78h0M290.84 79.71h0M293.6 76.45h0M284.68 85.08h0M288.54 84.01h0M292.93 77.65h0M294.04 82.6h0M288.46 87.03h0M291.95 85.77h0M285.43 81.99h0M291.73 82.72h0M289.27 82.5h0M289.42 78.61h0M294.5 78.67h0M295.52 78.67h0M284.41 81.66h0M288.89 79.86h0M294.63 78.42h0M293.18 86.2h0M289.88 81.99h0M297.04 83.27h0M284.35 83.84h0M289.44 79.52h0M287.64 79.72h0M296.83 84.57h0M289.52 77.71h0M295.88 83.83h0M285.38 83.54h0M283.89 82.04h0M294.29 84.7h0M290.76 77.73h0M293.18 81.1h0M293.05 76.76h0M286.39 80.66h0M288.09 78.98h0M293.19 78.43h0M289.09 84.34h0M289.55 77.58h0M284.07 82.5h0M284.52 81.98h0M290.42 78.06h0M293.18 81.89h0M295.29 79.31h0M297.2 85.94h0M290.2 77.39h0M290.35 77.21h0M293.42 84.46h0M283.69 84.68h0M295.17 77.03h0M291.86 84.78h0M288.29 84.43h0M288.57 84.65h0M284.39 84.82h0M296.14 83.69h0M285.36 86.68h0M293.9 77.06h0M288.78 84.13h0M288.38 86.71h0M296.82 85.58h0M296.15 83.07h0M297.73 83.78h0M297.41 82.79h0M285.99 82.19h0M290.34 79.88h0M288.68 82.08h0M291.94 78.43h0M287.22 81.99h0M290.66 80.92h0M293.1 77.96h0M291.08 79.1h0M294.7 84.54h0M294.87 82.17h0M286.78 87.36h0M290.76 80.36h0M287.41 80.71h0M293.77 86h0M290.34 84.89h0M286.24 81.34h0M288.44 79.49h0M288.46 85.18h0M294.15 78.23h0M286.55 85.56h0M292.95 84.19h0M292.66 84.41h0M293.19 87.87h0M295.23 78.51h0M295.09 84.96h0M290.41 80.29h0M287.1 81.79h0M293.82 86.97h0M295.9 86.62h0M289.68 80.95h0M287.27 87.31h0M295.96 79.81h0M295.95 86.91h0M289.49 78.04h0M294.75 80.36h0M284.81 87.07h0M289.68 80.65h0M292.05 78.84h0M288.65 85.27h0M288.06 84.23h0M292.49 77.99h0M283.31 84.16h0M292.29 79.33h0M286.04 86.46h0M296.82 78.56h0M291.91 82.9h0M287.95 83.78h0M292.15 82.08h0M287.73 80.89h0M288.52 87.06h0M284.76 88.13h0M286.65 86.48h0M286.7 83.06h0M295.11 85.89h0M287.09 85.46h0M286.46 83.54h0M294.82 86.3h0M291.33 80.52h0M286.95 85.16h0M284.38 81.47h0M288.61 81.09h0M290.72 79.27h0M293.67 82.15h0M290.76 81.87h0M288.65 86.54h0M286.18 86.75h0M288.44 79.86h0M292.35 82.75h0M284.74 83.94h0M291.09 79.76h0M287.99 86.33h0M288.15 80.9h0M288.5 70h0M289 72h0M290 68.5h0M300 86h0M291 93h0" stroke="#7aad00" stroke-width="1.48" stroke-linecap="round" fill="none"/>
<path d="M218.33 77.86h0M215.43 64.35h0M214.95 71.09h0M214.94 65.55h0M212.84 60.45h0M213.88 65.96h0M213.86 63.93h0M210.46 56.03h0M217.63 78.31h0M215.43 71.37h0M215.56 66.14h0M212.54 59.13h0M216.1 71.76h0M216.26 70.47h0M216.07 69.69h0M215.38 67.12h0M215.97 68.1h0M214.51 66.55h0M212.79 57.84h0M215.31 71.46h0M214.51 69.97h0M215.81 68.65h0M213.83 65.59h0M214.42 68.7h0M214.51 63.48h0M217.41 78.69h0M216.36 70.67h0M216.42 69.61h0M216.65 78.04h0M216.31 72.45h0M217.59 75.17h0M216.59 75.06h0M209.46 57.49h0M213.83 65.53h0M215.38 71.71h0M217.67 75.59h0M217.72 76.5h0M210.28 56.28h0M211.49 56.06h0M216.24 69.95h0M213.15 58.37h0M212.79 61.67h0M232.54 63.52h0M234.06 65.68h0M232.81 60.12h0M232.82 64.09h0M232.27 58.35h0M217.8 55.64h0M229.23 54.15h0M233.79 61.91h0M231.41 57.64h0M232.35 59.99h0M220.61 54.09h0M222.34 52.28h0M233.24 61.06h0M231.49 57.46h0M220.31 52.3h0M233.96 64.63h0M228.23 53.39h0M215.94 56.15h0M231.07 59.2h0M224.22 51.24h0M223.7 52.3h0M230.99 56.51h0M228.95 52.89h0M233.48 63.68h0M227.88 53.91h0M220.33 53.65h0M231 72.11h0M234.56 67.98h0M228.47 77.12h0M231.49 72.94h0M233.52 70.41h0M232.93 65.9h0M231.93 70.34h0M229.27 75.6h0M229.51 77.9h0M226.94 79.62h0M224.46 79.44h0M227.01 76.88h0M230.56 73.65h0M224.45 82.25h0M234.06 68.05h0M231.07 75.99h0M232.15 69.71h0M232.73 73.9h0M233.27 69.62h0M233.62 69.8h0M229.9 75.75h0M229.24 74.31h0M232.42 66.14h0M235.15 70.18h0M226.37 78.78h0M230.52 76.27h0M226.85 79.64h0M227.81 79.07h0M228.87 75.82h0M231.85 73.03h0M233.33 67.24h0M228.51 78.75h0M228.93 75.28h0M232.54 67.87h0M226.04 81.57h0M234.32 71.58h0M234.27 71.65h0M231.05 75.44h0M232.63 71.81h0M230.89 72.47h0M228.16 79.3h0M234.81 71.28h0M233.44 72.95h0M226.83 77.24h0M223.74 82.75h0M232.99 66.62h0M230.17 72.68h0M232.17 73.69h0M232.22 67.25h0M230.23 75.36h0M230.29 73.44h0M225.67 79.89h0M233.89 69.6h0M224.89 80.86h0M227.91 77.29h0M230.51 74.26h0M232.87 70.68h0M226.06 81.42h0M230.63 72.26h0M224.46 83.07h0M223.14 69.81h0M220.9 71.62h0M228.27 65.64h0M222.11 70.35h0M227.13 66.01h0M222.79 70.01h0M228.92 64.3h0M226.24 67.36h0M226.9 68.04h0M223.09 70.71h0M221.67 71.6h0M223.8 68.88h0M227.7 64.96h0M227.76 64.2h0M228.44 64h0M219.8 57.8h0M220.5 63.2h0M217 61.8h0M222 55h0M223 55.5h0M214.41 86.83h0M212.89 87.24h0M214.51 87.95h0M213.43 90.1h0M218.32 98.58h0M213.97 88.36h0M218.54 98.41h0M211.84 93.95h0M211.76 87.04h0M215.52 85.62h0M217.89 80.83h0M217.33 96.44h0M211.57 88.15h0M215.39 85.47h0M212.86 90.11h0M216.2 99.73h0M214.24 83.78h0M214.9 88.04h0M210.88 88.14h0M213.38 85.05h0M215.56 93.3h0M218.47 96.98h0M212.89 84.74h0M218.52 80.72h0M216.29 82.05h0M219.24 81.44h0M216.3 84.52h0M217.76 82.44h0M214.13 89.86h0M215.76 96.23h0M215.33 84.77h0M217.25 95.36h0M215.85 94.01h0M217.86 98.28h0M211.22 92.27h0M217.96 83.04h0M213.38 94.28h0M214.9 94.05h0M213.95 89.84h0M213.73 88.37h0M213.68 91.57h0M213.49 84.35h0M216.07 80.29h0M213.76 89.79h0M216.4 81.75h0M211.55 89.66h0M213.36 86.8h0M217.41 96.97h0M216.93 100.43h0M216.93 100.75h0M213.03 83.6h0M214.2 92.12h0M217.99 99.93h0M215.12 96.49h0M216 79.99h0M216.04 83.54h0M214.26 92.21h0M211.72 88.7h0M216.3 80.94h0M216.69 81.7h0M212.42 93.65h0M218.63 81.72h0M218.18 98.48h0M213.35 88.02h0M212.84 94.71h0M213.5 92.96h0M212.66 91.36h0M213.79 81.37h0M217.03 99.79h0M218.48 99.27h0M216.62 95.97h0M213.55 95.57h0M216.41 99.53h0M217.21 96.73h0M215.04 95.85h0M214.12 85.74h0M214.03 97.21h0M215.35 97.43h0M216.43 83.81h0M214 91.1h0M214.87 86.83h0M215.07 81.65h0M213.29 82.84h0M212.04 85.01h0M214.63 85.76h0M215.07 87.55h0M213.29 88.27h0M217.21 78.96h0M215.19 87.09h0M218.7 97.97h0M216.16 85.28h0M216.09 80.82h0M212.75 91.64h0M215.22 84.55h0M218.4 98.59h0M217.09 100.55h0M215.23 80.74h0M217.5 79.6h0M214.68 96.92h0M211.26 91.11h0M215.6 82.25h0M214.55 84.71h0M214.44 82.25h0M211.5 91.64h0M212.51 92.79h0M216.19 99.18h0M213.49 91.15h0M217.7 97.88h0M217.15 82.15h0M212.26 95.39h0M212.46 93.52h0M216.56 99.33h0M212.89 88.45h0M215.26 94.91h0M216.17 81.29h0M216.09 95.49h0M212.1 94.84h0M217.26 83.22h0M213.3 89.65h0M216.07 100.23h0M211.42 88.25h0M214.42 92.56h0M219.06 97.99h0M217.27 81.34h0M218.23 80.34h0M210.81 87.35h0M211.27 87.46h0M214.52 95.98h0M215.24 84.34h0M213.04 89.58h0M225.7 94.71h0M223.36 93.08h0M228.41 96.27h0M223.92 92.54h0M222.21 91.26h0M223.87 93.86h0M225.7 95.47h0M226.98 95.82h0M225.62 93.86h0M224.06 93.06h0M225.87 94.13h0M225.07 94.03h0M289.73 92.43h0M288.76 94.39h0M290.5 93.59h0M288.79 93.59h0M290.68 95.92h0M290.4 90.27h0M290.7 93.99h0M289.19 95.52h0M290.57 95.37h0M289.12 93.46h0M289.45 91.78h0M290.4 93.7h0M289.33 93.26h0M290.82 93.4h0M290.78 93.4h0M290.98 90.17h0M289.65 93.31h0M290.32 95.81h0M289 99.5h0M284 74.5h0M294 89h0" stroke="#f808e6" stroke-width="1.48" stroke-linecap="round" fill="none"/>
<path d="M266.04 120.17h0M266.17 121h0M266.97 127.2h0M266.32 125h0M261.56 123.57h0M264.98 122.08h0M262.91 125.05h0M267.75 127.03h0M264.57 127.05h0M260.84 125.61h0M269.49 113.96h0M266.92 121.71h0M260.38 125.02h0M268.27 125.31h0M261.45 127.09h0M268.16 116.44h0M267.66 124.6h0M266.16 125.49h0M268.42 126.81h0M262.54 123.25h0M266.73 125.73h0M260.53 125.89h0M269.05 116.63h0M266.88 123.1h0M260.38 124.68h0M267.66 117.6h0M267.72 120h0M268.21 115.39h0M268.94 115.43h0M266.5 126.1h0M261.74 124.83h0M267.07 124.77h0M265.01 123.49h0M268.75 116.85h0M264.67 124.53h0M263.32 125.59h0M267.37 126.85h0M269.9 115.08h0M263.23 125.43h0M261.41 124.29h0M261.22 125h0M265.51 126.35h0M265.59 119.71h0M260.94 127.09h0M265.68 121.14h0M264.04 127.69h0M262.91 124.74h0M269.05 116.55h0M267.82 119.62h0M265.07 120.99h0M266.54 123.34h0M263.3 126.79h0M268.27 117.53h0M268.22 119.8h0M267.09 118.21h0M268.12 121.94h0M266.39 118.89h0M265.02 122.58h0M261.61 125.65h0M267.12 117.52h0" stroke="#5f98fb" stroke-width="1.48" stroke-linecap="round" fill="none"/>
<path d="M263.73 137.16h0M265.22 137.4h0M266.37 137.89h0M271.39 138.6h0M280.68 132.92h0M270.77 133.05h0M275.82 132.1h0M263.19 138.19h0M270.88 137.82h0M264.33 136.65h0M275.69 136.27h0M268.47 137.53h0M270.54 135.77h0M265.49 132.46h0M260.66 132.53h0M274.91 135.51h0M262.39 137.51h0M261.82 129.25h0M264.16 134.69h0M264.58 139.49h0M279.61 131.68h0M275.37 137.04h0M271.13 131.31h0M265.72 130.58h0M268.18 139.68h0M278.74 131.54h0M263.27 129.52h0M266.76 129.55h0M262.54 131.25h0M271.51 133.8h0M265.36 134.84h0M275.92 137.41h0M266.23 139.93h0M269.2 132.28h0M263.86 134.96h0M277.27 132.56h0M269.71 136.65h0M262.83 136.14h0M262.72 137.24h0M259.43 131.56h0M261.15 129.94h0M272.52 139.19h0M261.35 130.83h0M275.71 134.11h0M279.47 132.39h0M267.45 140.45h0M270.78 140.24h0M275.92 137.74h0M276.13 137.4h0M265.64 136.9h0M267.74 137.76h0M267.15 138.44h0M269.11 138.56h0M265.28 135.09h0M273.74 133.53h0M274.34 137.46h0M279.29 133.7h0M271.89 138.59h0M264.69 128.38h0M279.28 131.52h0M259.43 129.78h0M263.22 129.9h0M267.8 140.3h0M269.59 134.39h0M261.77 134.66h0M278.21 133.46h0M264.49 131.11h0M268.84 136.42h0M271.32 139.57h0M270.01 134.66h0M265.55 129.61h0M279.22 134.3h0M274.92 137.86h0M265.29 137.48h0M263.14 135.21h0M271.9 138.08h0M262.27 132.47h0M263.23 129.39h0M274.78 137.69h0M273.08 138.13h0M270.11 135.31h0M273.26 135.65h0M269.61 137.84h0M268.08 133.48h0M268.23 135.29h0M266.64 133.08h0M268.1 132.83h0M267.39 133.84h0M271.82 132.77h0M263.88 128.2h0M264.93 134.05h0M265.79 128.76h0M263.92 131.31h0M274.21 138.36h0M269.07 133.04h0M263.75 138.38h0M261.07 135.72h0M268.83 129.89h0M273.48 134.16h0M271.74 133.47h0M263.65 132.45h0M271.39 132.22h0M268.39 138.57h0M262.59 137.36h0M265.94 140.28h0M279.92 132.26h0M267.73 136.1h0M272.86 132.45h0M259.26 129.61h0M265.39 136.04h0M264.23 135.62h0M264.7 138.17h0M262.01 131.41h0M268.37 139.81h0M262.22 130.5h0M261.46 130.78h0M265.98 133.14h0M275.59 133.25h0M269.19 133.15h0M268.07 139.98h0M270.32 136.87h0M267.08 131.53h0M266.59 137.08h0M268.87 134.85h0M263.15 130.3h0M266.07 136.86h0M274.49 133.63h0M260.05 131.38h0M263.26 138.7h0M270.88 132.25h0M264.09 131.79h0M264.8 132.5h0M276.29 138.25h0M274.21 139.5h0M259.5 130.14h0M264.31 134.87h0M268.17 131.15h0M266.18 128.6h0M280.59 131.33h0M273.19 132.63h0M278.5 131.86h0M260.77 130.59h0M272.97 136.86h0M264.85 131.54h0M266.37 130.43h0M268.31 140.1h0M264.07 130.14h0M272.66 136.54h0M269.99 130.34h0M262.42 131.14h0M270.06 134.19h0M270.96 137.45h0M278.62 134.09h0M261.72 135.83h0M265.12 139.06h0M273.94 138.32h0M267.69 130.02h0M273.33 132.15h0M261.51 130.14h0M267.56 129.65h0M272 123h0M274 125h0M277 127h0" stroke="#fe9e00" stroke-width="1.48" stroke-linecap="round" fill="none"/>
<path d="M471.24 34.5h0M473.85 41.73h0M463.29 46.21h0M468.57 33.48h0M462.11 42.54h0M465.62 45.36h0M464.56 45.15h0M460.15 32.48h0M460.61 34.41h0M469.3 32.15h0M474.83 41.29h0M468.52 44.92h0M464.24 44.25h0M469.63 31.46h0M465.84 44.94h0M471.16 33.63h0M462.51 32.5h0M472.2 37.85h0M470.09 32.55h0M473.31 40.12h0M460.48 43.34h0M469.14 46.03h0M461.97 42.99h0M473.92 41.9h0M467.11 32.29h0M463.61 45.69h0M458.66 33.86h0M457.82 40.03h0M463.61 44.93h0M473.46 41.72h0M471.96 35.34h0M460.43 34.74h0M459.41 32.71h0M469.78 45.02h0M464.01 44.65h0M458.36 41.55h0M457.91 37.33h0M464.86 46.36h0M473.09 40.51h0M462.03 31.79h0M460.4 41.94h0M471.83 34.76h0M467.29 32.52h0M464.83 44.88h0M468.06 32.24h0M472.7 39h0M469.87 34.48h0M469.47 45.74h0M472.63 41.95h0M472.6 40.28h0M459.66 37.93h0M468.04 45.73h0M461.44 44.71h0M469.27 33.29h0M462.84 44.92h0M458.98 38.13h0M458 35.64h0M459.58 34.5h0M469.57 31.84h0M473.87 36.51h0M460.78 41.84h0M473.66 42h0M468.45 32.11h0M469.09 34.12h0M459.77 39.79h0M462.26 45.53h0M460.54 32.47h0M460.77 32.55h0M459.6 38.34h0M458.39 40.12h0M464.88 29.65h0M467.34 29.99h0M474.4 40.68h0M469.81 45.25h0M473.6 43.9h0M467.11 45.08h0M468.03 45.78h0M473.62 37.45h0M458.87 36.11h0M472.76 45.07h0M462.21 42.75h0M462.37 43.08h0M474.35 38.42h0M467.03 31.87h0M457.7 39.04h0M464.52 39.28h0M464.39 42.54h0M464.29 36.21h0M467.28 41.67h0M461.23 38.7h0M466.65 43.05h0M466.95 36.79h0M467.14 42.81h0M463.45 41.62h0M464.72 39.11h0M463.22 40.44h0M468.51 36.66h0M465.78 41.34h0M466.62 35.89h0M466.46 43.3h0M468.9 40.03h0M470.19 37.29h0M466.93 41.91h0M467.11 34.54h0M462.63 37.32h0M467.3 37.5h0M463.44 41.48h0M469.17 39.29h0M465.46 35.49h0M467.26 43.3h0M463.06 37.61h0M464.13 37.99h0M462.37 37.22h0M468.55 36.4h0M461.67 39.59h0M465.71 42.64h0M461.71 40.84h0M468.2 36.89h0M461.98 39.42h0M469.22 37.96h0M465.93 40.2h0M467.51 37.44h0M462.64 37.87h0M466.82 42.41h0M464.28 35.34h0M467.75 40.75h0M463.35 40.25h0M468 42.1h0M462.84 36.63h0M464.02 38h0M469.07 39.62h0M471.19 40.03h0M460.92 37.53h0M467.77 35.12h0M470.35 37.34h0M467.63 38.69h0M463.52 41.19h0M464.19 42.26h0M463.94 39.4h0M469.46 37.1h0M466.53 37.42h0M468.96 40.35h0M470.06 40.07h0M467.75 36.28h0M464.42 36.66h0M470.88 41.55h0M461.78 40.62h0M469.81 41.29h0M470.19 41.71h0M466.44 35.46h0M469.37 41.42h0M467.18 43.36h0M469.13 35.38h0M464.23 36.59h0M465.5 34.34h0M468.57 38.46h0M469.32 36.53h0M465.25 40.82h0M468.58 42.32h0M464.06 41.91h0M454.82 67.52h0M456.87 56.88h0M462.78 47.7h0M459.28 54.54h0M461.8 46.18h0M454.71 67.33h0M459.49 50.78h0M454.7 70.42h0M459.53 51.59h0M457.74 56.82h0M460.01 48.94h0M454.51 63.93h0M461.01 50.3h0M457.44 60.41h0M458.49 53.81h0M455.53 59.11h0M455.59 62.31h0M455.17 62.49h0M458.75 56.29h0M455.14 75.56h0M462.01 49.14h0M459.39 51.33h0M462.15 49.37h0M457.67 59.95h0M459.47 52.71h0M461.11 51.57h0M459.77 52.9h0M458.44 54.59h0M458.12 55.73h0M461.97 45.18h0M455.02 67.55h0M463.55 45.38h0M455.31 72.82h0M459.28 50.65h0M456.05 72.32h0M456.26 59.9h0M461.69 48.64h0M455.24 63.61h0M455.3 63.96h0M458.43 56.55h0M462.01 45.1h0M453.99 71.7h0M461.28 46.92h0M460.83 50.2h0M459.26 50.46h0M484.47 101.2h0M476.67 95.49h0M475.65 91.84h0M485.05 96.34h0M479.87 91.1h0M487.89 98.67h0M474.49 88.44h0M482.7 97.76h0M479.81 97.11h0M486.59 97.5h0M482.62 93.66h0M477.04 89.39h0M473.07 87.91h0M486.27 102.07h0M473.81 87.41h0M482.28 96.45h0M473.16 85.84h0M481.5 96.38h0M471.42 90.11h0M475.21 91.61h0M481.87 94.49h0M488.46 102.53h0M479.01 94.01h0M483.83 102.12h0M485.48 99.38h0M484.09 99.01h0M485.34 104.62h0M486.7 97.66h0M482.25 95.64h0M474.26 92.45h0M474.36 91.93h0M480.75 94.36h0M483.53 99.26h0M485.54 105.35h0M487.47 98.99h0M483.84 97.54h0M488.1 102.56h0M479.68 90.37h0M479.96 94.64h0M478.41 90.08h0M482 92.41h0M474.49 89.83h0M477.68 92.73h0M481.7 94.75h0M475.5 87.09h0M479.79 98.07h0M476.93 90.99h0M476.19 93.59h0M479.41 96.36h0M472.59 85.72h0M475.46 89.97h0M479.13 92.86h0M488.44 103.08h0M480.11 98.3h0M482.92 97.58h0M487.41 99.82h0M469.83 90.37h0M481.04 95.83h0M471.27 89.76h0M477.64 93.84h0M474.81 94h0M478.95 91.84h0M488.82 100.86h0M476.21 91.55h0M490.46 102.38h0M473.8 92.2h0M472.78 88.21h0M484.98 100.44h0M488.23 98.38h0M488.01 101.2h0M486.46 99.95h0M487.34 101.62h0M477.32 89.65h0M482.33 92.48h0M472.6 91.9h0M480.52 97.78h0M473.95 89.7h0M481.56 92.39h0M474.4 93.73h0M484.77 98.49h0M481.18 98.35h0M487.42 103.31h0M470.45 90.15h0M475.19 88.69h0M473.56 89.65h0M482.42 95.97h0M481.46 92.58h0M484.55 98.54h0M475.64 93.92h0M485.38 104.03h0M490.77 102.32h0M478.67 93.04h0M474.89 92.64h0M489.43 100.83h0M479.01 97.45h0M487.46 101.47h0M473.17 88.87h0M479.93 96.66h0M475.44 89.21h0M491.09 102.13h0M484.51 94.65h0M485.63 98.51h0M489.19 101.54h0M488.6 100.53h0M473.59 86.13h0M472.9 88.09h0M488.99 102.94h0M486.7 96.07h0M480.84 95.34h0M472.54 89.4h0M480.27 93.22h0M485.41 100.99h0M474.89 87.33h0M472.96 87.1h0M481.2 99.31h0M486.06 104.48h0M472.18 90.88h0M485.63 98.94h0M487.89 104.22h0M474.41 87.86h0M473.02 90.04h0M481.46 98.57h0M473.19 85.17h0M489.53 102.67h0M474.63 93.45h0M471.93 90.68h0M486.92 102h0M484.85 94.18h0M482.19 97.1h0M485.6 99.3h0M474.29 87.83h0M485.34 95.26h0M474.04 87.86h0M485.83 99.81h0M476.08 95.29h0M483.34 94.87h0M480.4 97.61h0M478.34 92.67h0M480.05 98.44h0M484.64 95.52h0M474.74 112.63h0M476.35 109.63h0M487.5 106.13h0M480.25 108.32h0M469.02 114.78h0M473.73 113.32h0M481.78 108.05h0M476.1 112.5h0M470.16 113.92h0M480.08 110.34h0M467.54 113.13h0M467 117.27h0M486.06 105.95h0M486.84 104.51h0M472.49 113.67h0M477.15 109.4h0M484.33 107.94h0M469.21 113.42h0M475.16 113.64h0M483.12 108.91h0M487.02 105.59h0M473.61 109.82h0M474.04 109.64h0M476.89 110.46h0M481.3 108.55h0M466.42 116.22h0M488.18 106.71h0M483.01 107.01h0M476.06 111.1h0M465.92 114.92h0M486.62 108.93h0M471.41 112.75h0M472.73 112.63h0M487.21 106.52h0M468.35 114.4h0M487.52 108.14h0M466.97 115.55h0M483.68 106.35h0M465.71 114.44h0M472.21 111.18h0M485.93 106.88h0M469.57 115.18h0M483.93 105.43h0M472.64 115.43h0M486.37 106.24h0M465.71 115.89h0M468.73 117.06h0M475.19 113.18h0M480.85 110.54h0M478.06 112.51h0M472.31 112.03h0M466.4 114.6h0M485.58 104.86h0M474.26 109.43h0M477.34 112.67h0M483.34 104.21h0M479.94 107.64h0M483.39 106.22h0M479.48 105.94h0M483.43 104.6h0M478.42 106.39h0M479.4 108.4h0M479.75 103.6h0M481.38 109.09h0M483.33 107.35h0M481.34 107.65h0M481.7 104.28h0M483.26 103.9h0M479.79 108.96h0M482.11 106.58h0M483.39 106.45h0M480.46 106.87h0M478.42 108.99h0M468.4 114.74h0M472.81 112.94h0M473.9 109.91h0M475.01 112.38h0M474.08 115.06h0M468.05 111.2h0M475.51 113.67h0M470.88 112.41h0M469.29 113.68h0M471.42 111.98h0M468.1 109.51h0M473.04 110.57h0M471.17 108.44h0M471.02 116.11h0M474.15 110.77h0M468.31 115.88h0M469.67 111.33h0M472.3 112.24h0M474.34 113.33h0M469.37 111.75h0M471.73 114.15h0M466.89 114.34h0M473.6 112.43h0M472.55 113.52h0M467.14 110.55h0M468.91 115.23h0M474.38 110.12h0M465.74 110.45h0M469.3 110.99h0M475.26 112.3h0M472.57 111.46h0M470.52 116.11h0M468.33 112.23h0M470.74 108.77h0M466.76 112.06h0M474.58 111.39h0M466.65 115.46h0M466.75 109.84h0M470.06 114.3h0M470.22 111.26h0M469.83 112.19h0M468.37 116.08h0M471.58 110.66h0M473.12 110.78h0M470.2 110.36h0M471.4 110.03h0M473.04 111.2h0M473.5 110.12h0M470.48 112.51h0M473.62 113.37h0M470.15 108.27h0M472.94 110.57h0M467.95 109.15h0M466.73 113.64h0M471.94 109.76h0M456 103h0M458 104h0M460 105h0M462 106h0M457 105h0M460 114h0M461 117h0" stroke="#a8a8a8" stroke-width="1.48" stroke-linecap="round" fill="none"/>
<path d="M460.5 83.71h0M464.49 81.45h0M469.56 80.54h0M464.18 76.69h0M459.53 80.52h0M461.98 78.91h0M465.02 82.38h0M467.67 75.83h0M455.27 88.67h0M463.84 81.39h0M462.59 79.21h0M455.13 87.25h0M458.14 83.29h0M457.84 86.71h0M456.66 84.24h0M462.71 79.9h0M458.35 86.33h0M457.06 84.06h0M465.4 82.21h0M469.46 80.78h0M462.75 81.17h0M456.27 88.11h0M467.72 80.61h0M463.55 82.96h0M465.87 77.7h0M464.44 83.77h0M468.01 76.07h0M467.61 81.93h0M456.83 84.97h0M456.04 84.81h0M463.81 85.11h0M469.63 79.49h0M464.95 80.86h0M466.36 83.6h0M457.58 87.76h0M458.92 86.6h0M467.04 81.64h0M459.92 86.24h0M464.46 82.78h0M468.29 75.93h0M454.7 86.87h0M454.54 87.41h0M460.18 83.55h0M461.88 82.79h0M461.09 81.06h0M465.08 77.01h0M466.32 82.83h0M456.21 85.61h0M467.13 81.98h0M468.02 78.02h0M458.87 82.44h0M465.72 81.56h0M458.29 87.2h0M459.86 81.16h0M465.36 80.38h0M464.59 82.16h0M458.04 82.87h0M469.78 78.29h0M455.68 86.99h0M457.75 82.4h0M468.83 81.5h0M457.08 83.57h0M464.34 76.7h0M462.6 79.68h0M466.03 83.81h0M457.95 81.81h0M457.86 83.85h0M459.57 81.9h0M462.28 84.5h0M455.95 86.82h0M466.33 77.68h0M466.16 75.59h0M459.06 85.47h0M467.76 77.81h0M462.89 82.61h0M463.75 79.88h0M466.43 83.24h0M467.48 76.68h0M467.83 82.35h0M464.06 78.72h0M465.18 80.98h0M465.63 83.39h0M466.16 75.72h0M464.06 82.86h0M465.51 79.94h0M461.35 81.94h0M466.11 76.48h0M461.93 79h0M463.31 79h0M468.66 80.41h0M457.71 82.98h0M464.04 77.02h0M462.08 82.18h0M464.74 79.41h0M454.27 86.55h0M468.48 79.61h0M468.43 76.45h0M467.65 78.85h0M460 82.23h0M457.57 86.9h0M465.05 82.39h0M463.03 84.5h0M469.97 78.28h0M457.46 86.63h0M459.51 81.58h0M464.92 76.99h0M454.85 86.62h0M464.87 78.09h0M465.44 79.79h0M463.17 84.82h0M458.69 85.49h0M468.56 77.24h0M458.52 82.82h0M458.42 81.19h0M458.52 84.3h0M459 65h0" stroke="#7aad00" stroke-width="1.48" stroke-linecap="round" fill="none"/>
<path d="M404.47 70.3h0M402.4 65.18h0M400.78 73h0M403.1 69.84h0M396.49 68.02h0M398.16 63.76h0M399.99 67.47h0M396.57 56.16h0M397.68 76.32h0M393.86 57.99h0M396.3 64.24h0M401.86 55.33h0M394.6 60.25h0M394.18 54.42h0M403.46 74.62h0M401.46 59.4h0M401.74 57.48h0M399.2 56.94h0M404.33 68.66h0M401.98 68.4h0M403.13 65.42h0M400.68 64.78h0M402.82 65.93h0M396.61 65.46h0M399.77 75.37h0M402.35 56.86h0M399.61 67.33h0M400.53 63.88h0M399.62 70.27h0M404.45 65.44h0M403.19 70.04h0M394.55 58.25h0M397.08 60.92h0M399.38 59.25h0M397.83 70.6h0M401.18 77.85h0M397.88 75.57h0M403.45 59.96h0M398.4 60.81h0M399.03 71.39h0M395.61 60.53h0M395.3 64.33h0M398.34 57.91h0M401.92 60.19h0M402.8 75.59h0M396.82 58.39h0M402.05 55.1h0M405.57 69.29h0M400.13 52.44h0M396.68 62.85h0M400.69 53.18h0M403.56 71.98h0M395.34 57.76h0M394.05 56.27h0M403.26 59h0M394.83 61.68h0M403.25 66.23h0M403.38 60.42h0M393.55 53.77h0M402.4 65.2h0M402.93 56.57h0M396.63 56.92h0M404.06 70.69h0M396.34 72.41h0M402.34 70.15h0M395.56 52.2h0M401.32 70.45h0M404.67 61.12h0M399.75 69.23h0M405.03 69.19h0M399.7 72.53h0M399.37 51.92h0M400.11 62.59h0M397.36 62.04h0M395.88 59.73h0M402.71 75.79h0M398.93 74.68h0M394.63 65.44h0M402.68 72.87h0M398.03 55.7h0M405.49 68.06h0M401.49 60.69h0M398.26 75.92h0M401.62 72.16h0M400.41 72.08h0M400.55 67.73h0M395.47 53.55h0M402.17 71.34h0M401.67 58.13h0M399.33 72.51h0M401.33 76.47h0M399.94 53.07h0M398.45 69.7h0M399.63 73.27h0M395.72 55.07h0M395.85 62.73h0M400.26 77.69h0M398.55 69.41h0M393.3 54.7h0M396.9 65.73h0M399.83 51.85h0M398.26 53.58h0M399.22 61.43h0M395.34 53.09h0M400.17 77.89h0M400.01 61.02h0M400.85 58.18h0M398.68 65.75h0M397.92 66.8h0M394.17 62.78h0M399.58 72.1h0M403.56 71.62h0M397.96 70.93h0M395.6 68.28h0M393.21 56.39h0M395.28 60.86h0M400.99 74.53h0M405.23 63.54h0M403.15 69.15h0M400.88 70.25h0M395.33 66.9h0M401.75 63.33h0M398.44 64.09h0M394.62 53.09h0M396.64 55.86h0M404.69 61.14h0M404.38 66.77h0M402.25 63.56h0M396.17 66.8h0M397.05 74.2h0M397.41 62.76h0M400.05 78.51h0M399.84 66.78h0M399.31 72.34h0M404.98 68.46h0M402.04 66.37h0M394.7 63.86h0M393.81 56.06h0M394.76 63.18h0M395.97 57.09h0M401.28 76.91h0M400.57 64.63h0M397.57 65.65h0M397.42 74.68h0M403.54 73.25h0M399.39 64.98h0M395.92 51.36h0M399.39 63.69h0M398.28 64.89h0M399.75 55.7h0M395.5 64.36h0M396.46 73.15h0M397.37 77.01h0M393.25 57.66h0M397.03 74.75h0M399.28 57.11h0M394.59 57.81h0M402.56 67.1h0M394.7 59h0M402.8 64.23h0M395.69 58.12h0M395.49 68.59h0M400.73 65.51h0M403.06 65.83h0M397.09 69.72h0M399.32 54.91h0M402.71 63.08h0M403.91 69.75h0M405.47 67.23h0M400.74 78.28h0M403.44 60.46h0M405.13 69.52h0M405.34 68h0M402.7 67.69h0M395.89 53.21h0M402.66 63.64h0M396.44 58.35h0M404.39 68.31h0M402.73 73.87h0M398.68 63.64h0M398.62 61.01h0M396.87 70.92h0M401.91 72.74h0M402.35 59.99h0M402.88 74.63h0M398.65 58.68h0M397.91 65.8h0M399.85 59.24h0M402.33 70.47h0M398.15 75.02h0M393.22 54.62h0M399.8 57.37h0M401.53 65.23h0M400 74.54h0M401.34 77.35h0M401.86 76.63h0M402.82 61.94h0M399.81 72.91h0M400.39 71.1h0M397.45 67.97h0M402.57 61.68h0M401.86 76.3h0M397.8 65.73h0M399.29 74.48h0M396.51 59.01h0M398.1 69.26h0M399.54 71.45h0M398.36 51.76h0M398.01 67h0M400.63 63.85h0M393.37 57.9h0M397.38 69.19h0M395.26 64.58h0M396.52 66.81h0M401.95 65.5h0M402.75 68.44h0M399.29 72.25h0M403.72 63.49h0M398.91 64.93h0M397.84 57.44h0M402 68.56h0M393.71 58.57h0M396.81 67.19h0M397.84 77.53h0M395.92 55.79h0M398.78 58.95h0M401.77 75.8h0M394.46 59.68h0M394.74 63.09h0M397.73 71.37h0M398.47 69.01h0M394.82 55.65h0M404.72 70.53h0M402.58 73.25h0M397.19 51.08h0M401.07 61.25h0M397.28 73.73h0M398.56 63.39h0M397.04 71.29h0M404.12 62.21h0M398.49 73.46h0M402.16 74.16h0M399.91 61.86h0M397.68 72.94h0M401.75 69.84h0M399.35 53.56h0M403.81 72.31h0M399.21 66.74h0M403.45 64.84h0M399.18 64.57h0M402.57 71.59h0M397.35 72.74h0M397.88 69.86h0M397.91 76.18h0M397.96 60.84h0M398.63 67.93h0M404.59 67.02h0M402.34 72.08h0M398.48 54.3h0M402.38 57.09h0M399.49 65.41h0M397.73 64.71h0M398.95 78.46h0M401.15 78.34h0M403.03 61.67h0M400.77 66.77h0M402.62 59.42h0M401.81 61.35h0M403.17 64.82h0M396.64 51.13h0M404.64 65.7h0M401.4 74.25h0M404.58 61.81h0M402.45 74.29h0M397.72 62.76h0M397.76 60.58h0M398.36 74.74h0M403.28 66.66h0M401.35 59.39h0M402.94 75.47h0M397.96 64.98h0M395.85 58.02h0M404.08 68.98h0M398.81 68.93h0M397.64 67.11h0M395.4 66.17h0M397.23 58.35h0M402.62 61.1h0M402.65 71.99h0M397.88 51.89h0M388.26 71.8h0M385.97 66.13h0M385.31 65.52h0M380.02 57.14h0M386.79 66.82h0M388.19 73.5h0M387.64 66.19h0M386.81 66.99h0M385.6 66.06h0M382.36 57.02h0M385.77 59.81h0M381.01 55.21h0M384.92 59.01h0M390.08 73.4h0M385.39 59.38h0M387.03 67.34h0M387.64 67.92h0M380.97 56.36h0M387.93 68.89h0M381.03 56.58h0M381.33 57.26h0M387.71 68.4h0M386.68 61.97h0M382.06 55.98h0M387.85 72.9h0M387.15 70.04h0M386.4 66.14h0M386.76 67.77h0M384.79 62.06h0M385.36 59.67h0M385.77 68.52h0M385.5 60.67h0M386.28 61.87h0M384.7 61.07h0M383.86 57.49h0M384.88 59.36h0M388.48 69.89h0M386.72 63.77h0M386.29 67.64h0M384.8 57.72h0M385.56 59.68h0M388.09 73.18h0M388.07 70.57h0M386.55 63.12h0M384.8 63.54h0M389.88 77.3h0M387.38 78.99h0M387.55 82.02h0M388.91 76.06h0M384.74 86.86h0M384.78 92.34h0M388.87 81.6h0M387.62 89.31h0M387.29 97.39h0M386.68 86.66h0M389.31 76.81h0M387.64 92.94h0M388.65 77.19h0M385.07 85.66h0M384.65 84.06h0M387.56 95.1h0M385.57 87.53h0M385.08 85.16h0M384.38 92.03h0M388.02 80.91h0M385.56 87.7h0M388.63 75.07h0M387.78 85.78h0M386.52 95.39h0M384.91 92.79h0M383.94 89.47h0M390.34 76.51h0M388.46 78.8h0M390.18 81.06h0M390.51 78.61h0M386.1 87.69h0M388.28 86.33h0M386.98 87.5h0M391.26 77.65h0M389.5 78.73h0M389.13 79.08h0M388.06 78.69h0M387.6 95.16h0M387.67 76.25h0M388.88 76.87h0M386.05 92.92h0M388.41 94.98h0M384.11 92.48h0M386.24 96.98h0M386.41 85.14h0M386.99 94.8h0M389.78 81.85h0M389.93 80.51h0M388.5 96.14h0M385.03 82.65h0M385.86 91.29h0M389.92 77.67h0M385.94 80.92h0M384.63 84.29h0M389.55 82.15h0M388.77 94.94h0M385.78 93.79h0M386.44 80.98h0M384.54 84.48h0M384.01 87.87h0M388.3 96.34h0M384.66 91.6h0M387.55 90.73h0M384.51 91.56h0M390.22 80.36h0M389.41 76.58h0M387.94 77.2h0M384.57 84.14h0M386.14 92.32h0M389.1 79.5h0M384.21 89.12h0M387.85 95.47h0M389.19 75.39h0M384.97 91.42h0M384.99 94.38h0M384.32 89.59h0M387.43 77.55h0M387.22 90.98h0M388.45 78.78h0M385.81 81.27h0M387.81 81.52h0M384.27 86.32h0M386 81.31h0M385.5 92.21h0M386.91 98.01h0M385.76 92.81h0M390.87 76.34h0M387.17 90.58h0M386.24 90.27h0M385.44 83.65h0M385.48 95.21h0M386.25 85.36h0M387.4 98.87h0M387.47 89.54h0M388.91 94.91h0M391.82 92.61h0M392.37 93.27h0M395.81 89.16h0M396.61 91.31h0M395.87 88.59h0M393.61 92.93h0M393.56 89.17h0M394.19 88.99h0M394.32 88.69h0M396.09 89.49h0M395.42 92.5h0M392.39 92.39h0M394.84 92.31h0M392.3 91.34h0M396.85 92.33h0M392.71 90.34h0M394.35 91.59h0M394.19 90.04h0M396.32 89.38h0M393.23 91.65h0M396.27 91.54h0M394.97 88.3h0M391.94 92.71h0M397.97 90.85h0M394.89 92.17h0M459.24 94.01h0M459.74 95.21h0M460.56 95.08h0M459.36 94.38h0M460.83 93.52h0M459.7 94.85h0M460.99 93.08h0M460.38 94.38h0" stroke="#f808e6" stroke-width="1.48" stroke-linecap="round" fill="none"/>
<path d="M437.02 118.97h0M440.21 113.65h0M438.55 116.38h0M436.86 121.85h0M439.49 114.21h0M436.59 121.52h0M435.41 121.7h0M439.13 115.5h0M436.68 123.22h0M436.01 124.43h0M435.06 124.84h0M434.24 124.74h0M436.58 122.78h0M438.06 118.36h0M436.33 123.04h0M436.26 124.48h0M438.69 119.68h0M440.5 114.96h0M440.56 113.05h0M437.47 120.66h0M436.07 122.8h0M437.83 121.79h0M440.22 117.32h0M439.24 114.22h0M439.98 114.17h0M438.38 117.23h0M434.96 123.47h0M434.1 124.55h0M437.51 117.13h0M436.91 122.63h0M439.03 116.77h0M436.85 123.9h0M435.23 123.9h0M437.62 120.3h0M438.98 117.59h0M436.79 121.84h0M435.77 121.36h0M441.64 114.15h0M436.07 125.05h0M436.31 123.17h0M440.85 115.96h0M438.23 117.97h0M431 125h0M431.5 126.5h0M432 127h0" stroke="#5f98fb" stroke-width="1.48" stroke-linecap="round" fill="none"/>
<path d="M432.76 128.11h0M434.36 135.27h0M446.35 136.4h0M437.72 136.54h0M445.35 137.01h0M436.55 135.96h0M434.74 133.18h0M446.67 137.18h0M431.9 128.88h0M442.11 137.34h0M437.1 136.78h0M437.57 135.48h0M447.54 134.28h0M447.76 133.42h0M441.52 138.34h0M437.55 137.25h0M448.43 134.17h0M432.37 128.65h0M449.35 134.44h0M446.66 136.75h0M435.51 135.67h0M441.76 139.64h0M433.79 131.22h0M445.86 139.12h0M438.75 138.47h0M432.11 130.68h0M435.59 135.79h0M436.38 134.02h0M434.45 134.53h0M446.4 138.87h0M438.51 135.6h0M447.19 135.43h0M445.9 137.51h0M439.33 135.88h0M433.68 133.54h0M438.43 138.67h0M447.9 136.06h0M447.76 131.24h0M437.48 136.87h0M430.5 129.97h0M432.95 131.41h0M435.4 133.85h0M439.47 136.94h0M433.04 132.08h0M443.74 137.03h0M448.07 131.56h0M434.94 132.57h0M436.75 136.14h0M447.77 133.51h0M442.05 138.68h0M435.27 133.52h0M438.05 138.49h0M447.23 136.61h0M432.12 129.18h0M447.81 135.63h0M437.06 137.06h0M430.84 129.2h0M444.51 136.77h0M437.4 138.05h0M434.85 133.96h0M436.26 135.86h0M437.51 136.16h0M449.85 133.2h0M448.94 130.96h0M439.39 137.18h0M448.51 134.39h0M444.47 137.04h0M441.31 137.37h0M448.71 133.34h0M449.54 132.35h0M436.18 135.75h0M449.88 133.02h0M448.29 135.75h0M443.49 137.2h0M448.62 135.74h0M443.86 137.82h0M447.11 137.01h0M434.64 136.23h0M447.68 137.13h0M448.91 135.68h0M436.43 133.03h0M433.61 132h0M435.98 132.57h0M433.8 133.82h0M431.13 131.4h0M432.5 132.65h0M433.12 132.64h0M431.69 129.08h0M436.01 131.81h0M433.65 129.18h0M431.62 129h0M432.93 131.84h0M434.44 130.33h0M434.87 132.84h0M432.78 129.62h0M446 121.5h0M450 129.5h0M451.5 130.5h0M452 132h0M453.5 88.5h0" stroke="#fe9e00" stroke-width="1.48" stroke-linecap="round" fill="none"/>
<line x1="33.3" y1="22" x2="33.3" y2="145.9" stroke="#3a3a3a" stroke-width="1.5"/>
<line x1="32.55" y1="145.2" x2="152" y2="145.2" stroke="#3a3a3a" stroke-width="1.5"/>
<line x1="30" y1="32" x2="33.3" y2="32" stroke="#3a3a3a" stroke-width="1.1"/>
<text x="27.4" y="34.6" font-size="7.4" text-anchor="end" fill="#2a2a2a">10</text>
<line x1="30" y1="56.4" x2="33.3" y2="56.4" stroke="#3a3a3a" stroke-width="1.1"/>
<text x="27.4" y="59" font-size="7.4" text-anchor="end" fill="#2a2a2a">5</text>
<line x1="30" y1="80.8" x2="33.3" y2="80.8" stroke="#3a3a3a" stroke-width="1.1"/>
<text x="27.4" y="83.4" font-size="7.4" text-anchor="end" fill="#2a2a2a">0</text>
<line x1="30" y1="105.2" x2="33.3" y2="105.2" stroke="#3a3a3a" stroke-width="1.1"/>
<text x="27.4" y="107.8" font-size="7.4" text-anchor="end" fill="#2a2a2a">−5</text>
<line x1="30" y1="129.6" x2="33.3" y2="129.6" stroke="#3a3a3a" stroke-width="1.1"/>
<text x="27.4" y="132.2" font-size="7.4" text-anchor="end" fill="#2a2a2a">−10</text>
<line x1="53.3" y1="145.2" x2="53.3" y2="148.4" stroke="#3a3a3a" stroke-width="1.1"/>
<text x="57.47" y="156.9" font-size="7.5" text-anchor="end" fill="#2a2a2a">−10</text>
<line x1="76.07" y1="145.2" x2="76.07" y2="148.4" stroke="#3a3a3a" stroke-width="1.1"/>
<text x="78.16" y="156.9" font-size="7.5" text-anchor="end" fill="#2a2a2a">−5</text>
<line x1="98.85" y1="145.2" x2="98.85" y2="148.4" stroke="#3a3a3a" stroke-width="1.1"/>
<text x="100.93" y="156.9" font-size="7.5" text-anchor="end" fill="#2a2a2a">0</text>
<line x1="121.62" y1="145.2" x2="121.62" y2="148.4" stroke="#3a3a3a" stroke-width="1.1"/>
<text x="123.71" y="156.9" font-size="7.5" text-anchor="end" fill="#2a2a2a">5</text>
<line x1="144.4" y1="145.2" x2="144.4" y2="148.4" stroke="#3a3a3a" stroke-width="1.1"/>
<text x="148.57" y="156.9" font-size="7.5" text-anchor="end" fill="#2a2a2a">10</text>
<text x="92.5" y="169.6" font-size="8.9" text-anchor="middle" stroke="#1a1a1a" stroke-width="0.2" textLength="25.6" lengthAdjust="spacingAndGlyphs">UMAP_1</text>
<text transform="translate(14.9,83.4) rotate(-90)" font-size="9.2" text-anchor="middle" fill="#1a1a1a" stroke="#1a1a1a" stroke-width="0.2" textLength="25" lengthAdjust="spacingAndGlyphs">UMAP_2</text>
<text x="96.1" y="15.7" font-size="9.1" text-anchor="middle" font-weight="bold" fill="#000">WT</text>
<circle cx="153.4" cy="72.3" r="1.4" fill="#7aad00"/>
<text x="157.5" y="74.9" font-size="7.5">BP</text>
<circle cx="153.4" cy="82.5" r="1.4" fill="#5f98fb"/>
<text x="157.5" y="85.1" font-size="7.5">MP</text>
<circle cx="153.4" cy="92.7" r="1.4" fill="#fe9e00"/>
<text x="157.5" y="95.3" font-size="7.5">M/M</text>
<circle cx="153.4" cy="102.9" r="1.4" fill="#f808e6"/>
<text x="157.5" y="105.5" font-size="7.5">G</text>
<circle cx="153.4" cy="113.1" r="1.4" fill="#a8a8a8"/>
<text x="157.5" y="115.7" font-size="7.5">OC</text>
<line x1="204.3" y1="22" x2="204.3" y2="145.9" stroke="#3a3a3a" stroke-width="1.5"/>
<line x1="203.55" y1="145.2" x2="323" y2="145.2" stroke="#3a3a3a" stroke-width="1.5"/>
<line x1="201" y1="32" x2="204.3" y2="32" stroke="#3a3a3a" stroke-width="1.1"/>
<text x="198.4" y="34.6" font-size="7.4" text-anchor="end" fill="#2a2a2a">10</text>
<line x1="201" y1="56.4" x2="204.3" y2="56.4" stroke="#3a3a3a" stroke-width="1.1"/>
<text x="198.4" y="59" font-size="7.4" text-anchor="end" fill="#2a2a2a">5</text>
<line x1="201" y1="80.8" x2="204.3" y2="80.8" stroke="#3a3a3a" stroke-width="1.1"/>
<text x="198.4" y="83.4" font-size="7.4" text-anchor="end" fill="#2a2a2a">0</text>
<line x1="201" y1="105.2" x2="204.3" y2="105.2" stroke="#3a3a3a" stroke-width="1.1"/>
<text x="198.4" y="107.8" font-size="7.4" text-anchor="end" fill="#2a2a2a">−5</text>
<line x1="201" y1="129.6" x2="204.3" y2="129.6" stroke="#3a3a3a" stroke-width="1.1"/>
<text x="198.4" y="132.2" font-size="7.4" text-anchor="end" fill="#2a2a2a">−10</text>
<line x1="224.3" y1="145.2" x2="224.3" y2="148.4" stroke="#3a3a3a" stroke-width="1.1"/>
<text x="228.47" y="156.9" font-size="7.5" text-anchor="end" fill="#2a2a2a">−10</text>
<line x1="247.08" y1="145.2" x2="247.08" y2="148.4" stroke="#3a3a3a" stroke-width="1.1"/>
<text x="249.16" y="156.9" font-size="7.5" text-anchor="end" fill="#2a2a2a">−5</text>
<line x1="269.85" y1="145.2" x2="269.85" y2="148.4" stroke="#3a3a3a" stroke-width="1.1"/>
<text x="271.94" y="156.9" font-size="7.5" text-anchor="end" fill="#2a2a2a">0</text>
<line x1="292.62" y1="145.2" x2="292.62" y2="148.4" stroke="#3a3a3a" stroke-width="1.1"/>
<text x="294.71" y="156.9" font-size="7.5" text-anchor="end" fill="#2a2a2a">5</text>
<line x1="315.4" y1="145.2" x2="315.4" y2="148.4" stroke="#3a3a3a" stroke-width="1.1"/>
<text x="319.57" y="156.9" font-size="7.5" text-anchor="end" fill="#2a2a2a">10</text>
<text x="263.5" y="169.6" font-size="8.9" text-anchor="middle" stroke="#1a1a1a" stroke-width="0.2" textLength="25.6" lengthAdjust="spacingAndGlyphs">UMAP_1</text>
<text transform="translate(185.9,83.4) rotate(-90)" font-size="9.2" text-anchor="middle" fill="#1a1a1a" stroke="#1a1a1a" stroke-width="0.2" textLength="25" lengthAdjust="spacingAndGlyphs">UMAP_2</text>
<text x="263.8" y="15.8" font-size="9.6" text-anchor="middle" font-weight="bold" font-style="italic" fill="#000">csf1ra<tspan font-size="6.6" dy="-3.6">Δ5bp</tspan></text>
<circle cx="324.4" cy="72.3" r="1.4" fill="#7aad00"/>
<text x="328.5" y="74.9" font-size="7.5">BP</text>
<circle cx="324.4" cy="82.5" r="1.4" fill="#5f98fb"/>
<text x="328.5" y="85.1" font-size="7.5">MP</text>
<circle cx="324.4" cy="92.7" r="1.4" fill="#fe9e00"/>
<text x="328.5" y="95.3" font-size="7.5">M/M</text>
<circle cx="324.4" cy="102.9" r="1.4" fill="#f808e6"/>
<text x="328.5" y="105.5" font-size="7.5">G</text>
<circle cx="324.4" cy="113.1" r="1.4" fill="#a8a8a8"/>
<text x="328.5" y="115.7" font-size="7.5">OC</text>
<line x1="375.3" y1="22" x2="375.3" y2="145.9" stroke="#3a3a3a" stroke-width="1.5"/>
<line x1="374.55" y1="145.2" x2="494" y2="145.2" stroke="#3a3a3a" stroke-width="1.5"/>
<line x1="372" y1="32" x2="375.3" y2="32" stroke="#3a3a3a" stroke-width="1.1"/>
<text x="369.4" y="34.6" font-size="7.4" text-anchor="end" fill="#2a2a2a">10</text>
<line x1="372" y1="56.4" x2="375.3" y2="56.4" stroke="#3a3a3a" stroke-width="1.1"/>
<text x="369.4" y="59" font-size="7.4" text-anchor="end" fill="#2a2a2a">5</text>
<line x1="372" y1="80.8" x2="375.3" y2="80.8" stroke="#3a3a3a" stroke-width="1.1"/>
<text x="369.4" y="83.4" font-size="7.4" text-anchor="end" fill="#2a2a2a">0</text>
<line x1="372" y1="105.2" x2="375.3" y2="105.2" stroke="#3a3a3a" stroke-width="1.1"/>
<text x="369.4" y="107.8" font-size="7.4" text-anchor="end" fill="#2a2a2a">−5</text>
<line x1="372" y1="129.6" x2="375.3" y2="129.6" stroke="#3a3a3a" stroke-width="1.1"/>
<text x="369.4" y="132.2" font-size="7.4" text-anchor="end" fill="#2a2a2a">−10</text>
<line x1="395.3" y1="145.2" x2="395.3" y2="148.4" stroke="#3a3a3a" stroke-width="1.1"/>
<text x="399.47" y="156.9" font-size="7.5" text-anchor="end" fill="#2a2a2a">−10</text>
<line x1="418.08" y1="145.2" x2="418.08" y2="148.4" stroke="#3a3a3a" stroke-width="1.1"/>
<text x="420.16" y="156.9" font-size="7.5" text-anchor="end" fill="#2a2a2a">−5</text>
<line x1="440.85" y1="145.2" x2="440.85" y2="148.4" stroke="#3a3a3a" stroke-width="1.1"/>
<text x="442.94" y="156.9" font-size="7.5" text-anchor="end" fill="#2a2a2a">0</text>
<line x1="463.62" y1="145.2" x2="463.62" y2="148.4" stroke="#3a3a3a" stroke-width="1.1"/>
<text x="465.71" y="156.9" font-size="7.5" text-anchor="end" fill="#2a2a2a">5</text>
<line x1="486.4" y1="145.2" x2="486.4" y2="148.4" stroke="#3a3a3a" stroke-width="1.1"/>
<text x="490.57" y="156.9" font-size="7.5" text-anchor="end" fill="#2a2a2a">10</text>
<text x="434.5" y="169.6" font-size="8.9" text-anchor="middle" stroke="#1a1a1a" stroke-width="0.2" textLength="25.6" lengthAdjust="spacingAndGlyphs">UMAP_1</text>
<text transform="translate(356.9,83.4) rotate(-90)" font-size="9.2" text-anchor="middle" fill="#1a1a1a" stroke="#1a1a1a" stroke-width="0.2" textLength="25" lengthAdjust="spacingAndGlyphs">UMAP_2</text>
<text x="434.8" y="15.8" font-size="9.6" text-anchor="middle" font-weight="bold" font-style="italic" fill="#000">csf1rb<tspan font-size="6.6" dy="-3.6">Δ4bp</tspan></text>
<circle cx="495.4" cy="72.3" r="1.4" fill="#7aad00"/>
<text x="499.5" y="74.9" font-size="7.5">BP</text>
<circle cx="495.4" cy="82.5" r="1.4" fill="#5f98fb"/>
<text x="499.5" y="85.1" font-size="7.5">MP</text>
<circle cx="495.4" cy="92.7" r="1.4" fill="#fe9e00"/>
<text x="499.5" y="95.3" font-size="7.5">M/M</text>
<circle cx="495.4" cy="102.9" r="1.4" fill="#f808e6"/>
<text x="499.5" y="105.5" font-size="7.5">G</text>
<circle cx="495.4" cy="113.1" r="1.4" fill="#a8a8a8"/>
<text x="499.5" y="115.7" font-size="7.5">OC</text>
<text x="7.2" y="15.2" font-size="10.5" font-weight="bold" fill="#000">A</text>
<text x="7.3" y="185.6" font-size="10.5" font-weight="bold" fill="#000">B</text>
<rect x="67" y="213" width="7.12" height="15.2" fill="#7aad00"/>
<rect x="155.5" y="213" width="4.23" height="15.2" fill="#5b9bff"/>
<rect x="245" y="213" width="15.42" height="15.2" fill="#ffa200"/>
<rect x="334.5" y="213" width="25.44" height="15.2" fill="#ff00ff"/>
<rect x="424" y="213" width="42.71" height="15.2" fill="#a6a6a6"/>
<rect x="67" y="228.2" width="14.99" height="15.1" fill="#7aad00"/>
<rect x="155.5" y="228.2" width="6.29" height="15.1" fill="#5b9bff"/>
<rect x="245" y="228.2" width="14.53" height="15.1" fill="#ffa200"/>
<rect x="334.5" y="228.2" width="21.86" height="15.1" fill="#ff00ff"/>
<rect x="424" y="228.2" width="37.18" height="15.1" fill="#a6a6a6"/>
<rect x="67" y="243.3" width="4.46" height="15.1" fill="#7aad00"/>
<rect x="155.5" y="243.3" width="3.25" height="15.1" fill="#5b9bff"/>
<rect x="245" y="243.3" width="7.19" height="15.1" fill="#ffa200"/>
<rect x="334.5" y="243.3" width="39.05" height="15.1" fill="#ff00ff"/>
<rect x="424" y="243.3" width="40.93" height="15.1" fill="#a6a6a6"/>
<line x1="66.5" y1="188.8" x2="513.8" y2="188.8" stroke="#333333" stroke-width="1.05"/>
<line x1="66.5" y1="213" x2="513.8" y2="213" stroke="#333333" stroke-width="1.05"/>
<line x1="66.5" y1="228.2" x2="513.8" y2="228.2" stroke="#333333" stroke-width="1.05"/>
<line x1="66.5" y1="243.3" x2="513.8" y2="243.3" stroke="#333333" stroke-width="1.05"/>
<line x1="66.5" y1="258.4" x2="513.8" y2="258.4" stroke="#333333" stroke-width="1.05"/>
<line x1="67" y1="188.8" x2="67" y2="258.4" stroke="#333333" stroke-width="1.05"/>
<line x1="155.5" y1="188.8" x2="155.5" y2="258.4" stroke="#333333" stroke-width="1.05"/>
<line x1="245" y1="188.8" x2="245" y2="258.4" stroke="#333333" stroke-width="1.05"/>
<line x1="334.5" y1="188.8" x2="334.5" y2="258.4" stroke="#333333" stroke-width="1.05"/>
<line x1="424" y1="188.8" x2="424" y2="258.4" stroke="#333333" stroke-width="1.05"/>
<line x1="513.3" y1="188.8" x2="513.3" y2="258.4" stroke="#333333" stroke-width="1.05"/>
<text x="111.25" y="199.3" font-size="9.2" text-anchor="middle" font-weight="bold" fill="#111">Blood</text>
<text x="111.25" y="208.6" font-size="9.2" text-anchor="middle" font-weight="bold" fill="#111">progenitors</text>
<text x="200.25" y="199.3" font-size="9.2" text-anchor="middle" font-weight="bold" fill="#111">Myeloid</text>
<text x="200.25" y="208.6" font-size="9.2" text-anchor="middle" font-weight="bold" fill="#111">progenitors</text>
<text x="289.75" y="199.3" font-size="9.2" text-anchor="middle" font-weight="bold" fill="#111">Monocytes/</text>
<text x="289.75" y="208.6" font-size="9.2" text-anchor="middle" font-weight="bold" fill="#111">macrophages</text>
<text x="379.25" y="204" font-size="9.2" text-anchor="middle" font-weight="bold" fill="#111">Granulocytes</text>
<text x="468.65" y="204" font-size="9.2" text-anchor="middle" font-weight="bold" fill="#111">Other cells</text>
<text x="152.9" y="224.2" font-size="8.8" text-anchor="end" fill="#111">6.8%</text>
<text x="242.4" y="224.2" font-size="8.8" text-anchor="end" fill="#111">3.5%</text>
<text x="331.9" y="224.2" font-size="8.8" text-anchor="end" fill="#111">16.0%</text>
<text x="421.4" y="224.2" font-size="8.8" text-anchor="end" fill="#111">27.2%</text>
<text x="510.7" y="224.2" font-size="8.8" text-anchor="end" fill="#111">46.6%</text>
<text x="152.9" y="239.3" font-size="8.8" text-anchor="end" fill="#111">15.7%</text>
<text x="242.4" y="239.3" font-size="8.8" text-anchor="end" fill="#111">5.8%</text>
<text x="331.9" y="239.3" font-size="8.8" text-anchor="end" fill="#111">15.0%</text>
<text x="421.4" y="239.3" font-size="8.8" text-anchor="end" fill="#111">23.2%</text>
<text x="510.7" y="239.3" font-size="8.8" text-anchor="end" fill="#111">40.4%</text>
<text x="152.9" y="254.4" font-size="8.8" text-anchor="end" fill="#111">3.8%</text>
<text x="242.4" y="254.4" font-size="8.8" text-anchor="end" fill="#111">2.4%</text>
<text x="331.9" y="254.4" font-size="8.8" text-anchor="end" fill="#111">6.8%</text>
<text x="421.4" y="254.4" font-size="8.8" text-anchor="end" fill="#111">42.4%</text>
<text x="510.7" y="254.4" font-size="8.8" text-anchor="end" fill="#111">44.6%</text>
<text x="63.6" y="224.1" font-size="8.8" text-anchor="end" font-weight="bold" fill="#111">WT</text>
<text x="63.6" y="239.4" font-size="9.2" text-anchor="end" font-weight="bold" font-style="italic" fill="#111">csf1ra<tspan font-size="7.4" dy="-3.6">Δ5bp</tspan></text>
<text x="63.6" y="254.4" font-size="9.2" text-anchor="end" font-weight="bold" font-style="italic" fill="#111">csf1rb<tspan font-size="7.4" dy="-3.6">Δ4bp</tspan></text>
<text x="7.2" y="282.5" font-size="10.5" font-weight="bold" fill="#000">C</text>
<circle cx="81.4" cy="296.8" r="2.55" fill="#c6c9bd"/>
<circle cx="81.4" cy="314.3" r="6.3" fill="#b4c29a"/>
<circle cx="81.4" cy="331.6" r="2.55" fill="#c6c9bd"/>
<circle cx="95.25" cy="296.8" r="0.5" fill="#dddddd"/>
<circle cx="95.25" cy="314.3" r="0.5" fill="#dddddd"/>
<circle cx="95.25" cy="331.6" r="0.5" fill="#dddddd"/>
<circle cx="109.1" cy="296.8" r="3.6" fill="#8ab43c"/>
<circle cx="109.1" cy="314.3" r="5.25" fill="#76aa0c"/>
<circle cx="109.1" cy="331.6" r="1.8" fill="#a0b870"/>
<circle cx="122.95" cy="296.8" r="0.5" fill="#cccccc"/>
<circle cx="122.95" cy="314.3" r="1.4" fill="#a0b870"/>
<circle cx="122.95" cy="331.6" r="0.5" fill="#cccccc"/>
<circle cx="136.8" cy="296.8" r="1.2" fill="#98b460"/>
<circle cx="136.8" cy="314.3" r="3" fill="#78aa10"/>
<circle cx="136.8" cy="331.6" r="1.2" fill="#98b460"/>
<circle cx="150.65" cy="296.8" r="2" fill="#b8c4a0"/>
<circle cx="150.65" cy="314.3" r="4.7" fill="#a8c080"/>
<circle cx="150.65" cy="331.6" r="5" fill="#a8c080"/>
<circle cx="164.5" cy="296.8" r="1.6" fill="#a8bc88"/>
<circle cx="164.5" cy="314.3" r="1.75" fill="#98b460"/>
<circle cx="164.5" cy="331.6" r="1.3" fill="#a8bc88"/>
<circle cx="178.35" cy="296.8" r="2" fill="#c0c8b0"/>
<circle cx="178.35" cy="314.3" r="4.4" fill="#b8c8a0"/>
<circle cx="178.35" cy="331.6" r="2.5" fill="#c0c8b0"/>
<circle cx="192.2" cy="296.8" r="2.2" fill="#c0c8b0"/>
<circle cx="192.2" cy="314.3" r="4.2" fill="#a8c080"/>
<circle cx="192.2" cy="331.6" r="6" fill="#78aa10"/>
<line x1="70.5" y1="289" x2="70.5" y2="342.8" stroke="#3a3a3a" stroke-width="1.4"/>
<line x1="69.8" y1="342.1" x2="201.2" y2="342.1" stroke="#3a3a3a" stroke-width="1.4"/>
<line x1="67.5" y1="296.8" x2="70.5" y2="296.8" stroke="#3a3a3a" stroke-width="1"/>
<line x1="67.5" y1="314.3" x2="70.5" y2="314.3" stroke="#3a3a3a" stroke-width="1"/>
<line x1="67.5" y1="331.6" x2="70.5" y2="331.6" stroke="#3a3a3a" stroke-width="1"/>
<line x1="81.4" y1="342.1" x2="81.4" y2="345.2" stroke="#3a3a3a" stroke-width="1"/>
<text transform="translate(83.2,350.8) rotate(-45)" font-size="7.6" text-anchor="end" font-style="italic" fill="#1a1a1a">cebpb</text>
<line x1="95.25" y1="342.1" x2="95.25" y2="345.2" stroke="#3a3a3a" stroke-width="1"/>
<text transform="translate(97.05,350.8) rotate(-45)" font-size="7.6" text-anchor="end" font-style="italic" fill="#1a1a1a">csf1ra</text>
<line x1="109.1" y1="342.1" x2="109.1" y2="345.2" stroke="#3a3a3a" stroke-width="1"/>
<text transform="translate(110.9,350.8) rotate(-45)" font-size="7.6" text-anchor="end" font-style="italic" fill="#1a1a1a">csf1rb</text>
<line x1="122.95" y1="342.1" x2="122.95" y2="345.2" stroke="#3a3a3a" stroke-width="1"/>
<text transform="translate(124.75,350.8) rotate(-45)" font-size="7.6" text-anchor="end" font-style="italic" fill="#1a1a1a">csf3r</text>
<line x1="136.8" y1="342.1" x2="136.8" y2="345.2" stroke="#3a3a3a" stroke-width="1"/>
<text transform="translate(138.6,350.8) rotate(-45)" font-size="7.6" text-anchor="end" font-style="italic" fill="#1a1a1a">gata2b</text>
<line x1="150.65" y1="342.1" x2="150.65" y2="345.2" stroke="#3a3a3a" stroke-width="1"/>
<text transform="translate(152.45,350.8) rotate(-45)" font-size="7.6" text-anchor="end" font-style="italic" fill="#1a1a1a">myb</text>
<line x1="164.5" y1="342.1" x2="164.5" y2="345.2" stroke="#3a3a3a" stroke-width="1"/>
<text transform="translate(166.3,350.8) rotate(-45)" font-size="7.6" text-anchor="end" font-style="italic" fill="#1a1a1a">spi1a</text>
<line x1="178.35" y1="342.1" x2="178.35" y2="345.2" stroke="#3a3a3a" stroke-width="1"/>
<text transform="translate(180.15,350.8) rotate(-45)" font-size="7.6" text-anchor="end" font-style="italic" fill="#1a1a1a">spi1b</text>
<line x1="192.2" y1="342.1" x2="192.2" y2="345.2" stroke="#3a3a3a" stroke-width="1"/>
<text transform="translate(194,350.8) rotate(-45)" font-size="7.6" text-anchor="end" font-style="italic" fill="#1a1a1a">stat1a</text>
<text x="64.7" y="299.6" font-size="8" text-anchor="end">WT</text>
<text x="64.7" y="318.2" font-size="8" text-anchor="end" font-style="italic" fill="#111">csf1ra<tspan font-size="5.6" dy="-3">Δ5bp</tspan></text>
<text x="64.7" y="335.5" font-size="8" text-anchor="end" font-style="italic" fill="#111">csf1rb<tspan font-size="5.6" dy="-3">Δ4bp</tspan></text>
<circle cx="272.1" cy="297.8" r="6.2" fill="#b0b8d8"/>
<circle cx="272.1" cy="315.3" r="6.7" fill="#82a2ee"/>
<circle cx="272.1" cy="332.5" r="6.6" fill="#86a2ea"/>
<circle cx="285.9" cy="297.8" r="1" fill="#6a8ce8"/>
<circle cx="285.9" cy="315.3" r="0.5" fill="#ccccdd"/>
<circle cx="285.9" cy="332.5" r="1" fill="#6a8ce8"/>
<circle cx="299.7" cy="297.8" r="2.5" fill="#90a8e0"/>
<circle cx="299.7" cy="315.3" r="2.6" fill="#90a8e4"/>
<circle cx="299.7" cy="332.5" r="1" fill="#90a0e0"/>
<circle cx="313.5" cy="297.8" r="1.8" fill="#6c94ee"/>
<circle cx="313.5" cy="315.3" r="2.5" fill="#5890f8"/>
<circle cx="313.5" cy="332.5" r="1" fill="#7090e8"/>
<circle cx="327.3" cy="297.8" r="0.5" fill="#ccccdd"/>
<circle cx="327.3" cy="315.3" r="2" fill="#a8b0dc"/>
<circle cx="327.3" cy="332.5" r="2.6" fill="#b0b8dc"/>
<circle cx="341.1" cy="297.8" r="2" fill="#7898e8"/>
<circle cx="341.1" cy="315.3" r="2" fill="#7898e8"/>
<circle cx="341.1" cy="332.5" r="1" fill="#7890e0"/>
<circle cx="354.9" cy="297.8" r="6.4" fill="#a8b4e4"/>
<circle cx="354.9" cy="315.3" r="6.8" fill="#5890f8"/>
<circle cx="354.9" cy="332.5" r="6.65" fill="#a0b0e4"/>
<circle cx="368.7" cy="297.8" r="1.2" fill="#c0c0cc"/>
<circle cx="368.7" cy="315.3" r="1.5" fill="#c0c4d0"/>
<circle cx="368.7" cy="332.5" r="2.55" fill="#c0c4d4"/>
<line x1="260.7" y1="289.2" x2="260.7" y2="343.1" stroke="#3a3a3a" stroke-width="1.4"/>
<line x1="260" y1="342.4" x2="377.6" y2="342.4" stroke="#3a3a3a" stroke-width="1.4"/>
<line x1="257.7" y1="297.8" x2="260.7" y2="297.8" stroke="#3a3a3a" stroke-width="1"/>
<line x1="257.7" y1="315.3" x2="260.7" y2="315.3" stroke="#3a3a3a" stroke-width="1"/>
<line x1="257.7" y1="332.5" x2="260.7" y2="332.5" stroke="#3a3a3a" stroke-width="1"/>
<line x1="272.1" y1="342.4" x2="272.1" y2="345.5" stroke="#3a3a3a" stroke-width="1"/>
<text transform="translate(273.9,351.1) rotate(-45)" font-size="7.6" text-anchor="end" font-style="italic" fill="#1a1a1a">cebpb</text>
<line x1="285.9" y1="342.4" x2="285.9" y2="345.5" stroke="#3a3a3a" stroke-width="1"/>
<text transform="translate(287.7,351.1) rotate(-45)" font-size="7.6" text-anchor="end" font-style="italic" fill="#1a1a1a">csf1ra</text>
<line x1="299.7" y1="342.4" x2="299.7" y2="345.5" stroke="#3a3a3a" stroke-width="1"/>
<text transform="translate(301.5,351.1) rotate(-45)" font-size="7.6" text-anchor="end" font-style="italic" fill="#1a1a1a">csf1rb</text>
<line x1="313.5" y1="342.4" x2="313.5" y2="345.5" stroke="#3a3a3a" stroke-width="1"/>
<text transform="translate(315.3,351.1) rotate(-45)" font-size="7.6" text-anchor="end" font-style="italic" fill="#1a1a1a">csf3r</text>
<line x1="327.3" y1="342.4" x2="327.3" y2="345.5" stroke="#3a3a3a" stroke-width="1"/>
<text transform="translate(329.1,351.1) rotate(-45)" font-size="7.6" text-anchor="end" font-style="italic" fill="#1a1a1a">myb</text>
<line x1="341.1" y1="342.4" x2="341.1" y2="345.5" stroke="#3a3a3a" stroke-width="1"/>
<text transform="translate(342.9,351.1) rotate(-45)" font-size="7.6" text-anchor="end" font-style="italic" fill="#1a1a1a">spi1a</text>
<line x1="354.9" y1="342.4" x2="354.9" y2="345.5" stroke="#3a3a3a" stroke-width="1"/>
<text transform="translate(356.7,351.1) rotate(-45)" font-size="7.6" text-anchor="end" font-style="italic" fill="#1a1a1a">spi1b</text>
<line x1="368.7" y1="342.4" x2="368.7" y2="345.5" stroke="#3a3a3a" stroke-width="1"/>
<text transform="translate(370.5,351.1) rotate(-45)" font-size="7.6" text-anchor="end" font-style="italic" fill="#1a1a1a">stat1a</text>
<text x="254.9" y="300.6" font-size="8" text-anchor="end">WT</text>
<text x="254.9" y="319.2" font-size="8" text-anchor="end" font-style="italic" fill="#111">csf1ra<tspan font-size="5.6" dy="-3">Δ5bp</tspan></text>
<text x="254.9" y="336.4" font-size="8" text-anchor="end" font-style="italic" fill="#111">csf1rb<tspan font-size="5.6" dy="-3">Δ4bp</tspan></text>
<circle cx="100" cy="383.9" r="6.6" fill="#e8b880"/>
<circle cx="100" cy="401.2" r="6.75" fill="#f89e10"/>
<circle cx="100" cy="418.5" r="6.6" fill="#e8b680"/>
<circle cx="113.72" cy="383.9" r="1.3" fill="#f8a020"/>
<circle cx="113.72" cy="401.2" r="0.8" fill="#f0b070"/>
<circle cx="113.72" cy="418.5" r="1.7" fill="#f89e10"/>
<circle cx="127.44" cy="383.9" r="2.2" fill="#f0b060"/>
<circle cx="127.44" cy="401.2" r="2.45" fill="#f0b060"/>
<circle cx="127.44" cy="418.5" r="0.5" fill="#e8d0c0"/>
<circle cx="141.16" cy="383.9" r="2.3" fill="#f8a830"/>
<circle cx="141.16" cy="401.2" r="2.9" fill="#f8a020"/>
<circle cx="141.16" cy="418.5" r="1.4" fill="#e8b070"/>
<circle cx="154.88" cy="383.9" r="4.1" fill="#f0b060"/>
<circle cx="154.88" cy="401.2" r="4.75" fill="#f8a020"/>
<circle cx="154.88" cy="418.5" r="4" fill="#f0b060"/>
<circle cx="168.6" cy="383.9" r="5.15" fill="#f89c08"/>
<circle cx="168.6" cy="401.2" r="3.9" fill="#f0a848"/>
<circle cx="168.6" cy="418.5" r="4.45" fill="#f89c08"/>
<circle cx="182.32" cy="383.9" r="2.3" fill="#f0a848"/>
<circle cx="182.32" cy="401.2" r="1.85" fill="#f0b060"/>
<circle cx="182.32" cy="418.5" r="2.6" fill="#f0a848"/>
<circle cx="196.04" cy="383.9" r="6.4" fill="#f89c08"/>
<circle cx="196.04" cy="401.2" r="5.6" fill="#f89c08"/>
<circle cx="196.04" cy="418.5" r="3.2" fill="#e8b880"/>
<circle cx="209.76" cy="383.9" r="5.75" fill="#f8a020"/>
<circle cx="209.76" cy="401.2" r="5.75" fill="#f0a030"/>
<circle cx="209.76" cy="418.5" r="2.7" fill="#e8c098"/>
<circle cx="223.48" cy="383.9" r="2.9" fill="#f8a020"/>
<circle cx="223.48" cy="401.2" r="3.85" fill="#f89c08"/>
<circle cx="223.48" cy="418.5" r="1.9" fill="#e8b070"/>
<circle cx="237.2" cy="383.9" r="6.5" fill="#e8b070"/>
<circle cx="237.2" cy="401.2" r="6.9" fill="#f89c08"/>
<circle cx="237.2" cy="418.5" r="6.4" fill="#e8b070"/>
<circle cx="250.92" cy="383.9" r="6.7" fill="#f89c08"/>
<circle cx="250.92" cy="401.2" r="6.7" fill="#f0a848"/>
<circle cx="250.92" cy="418.5" r="6.5" fill="#e8b070"/>
<circle cx="264.64" cy="383.9" r="0.5" fill="#e8d8c8"/>
<circle cx="264.64" cy="401.2" r="0.5" fill="#e8d8c8"/>
<circle cx="264.64" cy="418.5" r="2.45" fill="#e8b070"/>
<circle cx="278.36" cy="383.9" r="6.2" fill="#f89c08"/>
<circle cx="278.36" cy="401.2" r="4.4" fill="#e8b070"/>
<circle cx="278.36" cy="418.5" r="2.15" fill="#e0b898"/>
<circle cx="292.08" cy="383.9" r="4.85" fill="#dcc0a0"/>
<circle cx="292.08" cy="401.2" r="6.2" fill="#e8c098"/>
<circle cx="292.08" cy="418.5" r="3.45" fill="#dcc0a8"/>
<circle cx="305.8" cy="383.9" r="2.7" fill="#eeb060"/>
<circle cx="305.8" cy="401.2" r="5" fill="#f89c08"/>
<circle cx="305.8" cy="418.5" r="2.15" fill="#e8b880"/>
<circle cx="319.52" cy="383.9" r="3.3" fill="#e8b070"/>
<circle cx="319.52" cy="401.2" r="2.6" fill="#e8b880"/>
<circle cx="319.52" cy="418.5" r="4.4" fill="#f0a848"/>
<circle cx="333.24" cy="383.9" r="1" fill="#e8b070"/>
<circle cx="333.24" cy="401.2" r="1.55" fill="#f0a848"/>
<circle cx="333.24" cy="418.5" r="3.4" fill="#f89c08"/>
<circle cx="346.96" cy="383.9" r="2.85" fill="#e0b890"/>
<circle cx="346.96" cy="401.2" r="6.4" fill="#f89c08"/>
<circle cx="346.96" cy="418.5" r="4.55" fill="#f0a848"/>
<line x1="87.3" y1="376.3" x2="87.3" y2="430.4" stroke="#3a3a3a" stroke-width="1.4"/>
<line x1="86.6" y1="429.7" x2="356.5" y2="429.7" stroke="#3a3a3a" stroke-width="1.4"/>
<line x1="84.3" y1="383.9" x2="87.3" y2="383.9" stroke="#3a3a3a" stroke-width="1"/>
<line x1="84.3" y1="401.2" x2="87.3" y2="401.2" stroke="#3a3a3a" stroke-width="1"/>
<line x1="84.3" y1="418.5" x2="87.3" y2="418.5" stroke="#3a3a3a" stroke-width="1"/>
<line x1="100" y1="429.7" x2="100" y2="432.8" stroke="#3a3a3a" stroke-width="1"/>
<text transform="translate(101.8,438.4) rotate(-45)" font-size="7.6" text-anchor="end" font-style="italic" fill="#1a1a1a">cebpb</text>
<line x1="113.72" y1="429.7" x2="113.72" y2="432.8" stroke="#3a3a3a" stroke-width="1"/>
<text transform="translate(115.52,438.4) rotate(-45)" font-size="7.6" text-anchor="end" font-style="italic" fill="#1a1a1a">csf1ra</text>
<line x1="127.44" y1="429.7" x2="127.44" y2="432.8" stroke="#3a3a3a" stroke-width="1"/>
<text transform="translate(129.24,438.4) rotate(-45)" font-size="7.6" text-anchor="end" font-style="italic" fill="#1a1a1a">csf1rb</text>
<line x1="141.16" y1="429.7" x2="141.16" y2="432.8" stroke="#3a3a3a" stroke-width="1"/>
<text transform="translate(142.96,438.4) rotate(-45)" font-size="7.6" text-anchor="end" font-style="italic" fill="#1a1a1a">csf3r</text>
<line x1="154.88" y1="429.7" x2="154.88" y2="432.8" stroke="#3a3a3a" stroke-width="1"/>
<text transform="translate(156.68,438.4) rotate(-45)" font-size="7.6" text-anchor="end" font-style="italic" fill="#1a1a1a">irf8</text>
<line x1="168.6" y1="429.7" x2="168.6" y2="432.8" stroke="#3a3a3a" stroke-width="1"/>
<text transform="translate(170.4,438.4) rotate(-45)" font-size="7.6" text-anchor="end" font-style="italic" fill="#1a1a1a">mfap4</text>
<line x1="182.32" y1="429.7" x2="182.32" y2="432.8" stroke="#3a3a3a" stroke-width="1"/>
<text transform="translate(184.12,438.4) rotate(-45)" font-size="7.6" text-anchor="end" font-style="italic" fill="#1a1a1a">mpeg1</text>
<line x1="196.04" y1="429.7" x2="196.04" y2="432.8" stroke="#3a3a3a" stroke-width="1"/>
<text transform="translate(197.84,438.4) rotate(-45)" font-size="7.6" text-anchor="end" font-style="italic" fill="#1a1a1a">mrc1b</text>
<line x1="209.76" y1="429.7" x2="209.76" y2="432.8" stroke="#3a3a3a" stroke-width="1"/>
<text transform="translate(211.56,438.4) rotate(-45)" font-size="7.6" text-anchor="end" font-style="italic" fill="#1a1a1a">nccrp1</text>
<line x1="223.48" y1="429.7" x2="223.48" y2="432.8" stroke="#3a3a3a" stroke-width="1"/>
<text transform="translate(225.28,438.4) rotate(-45)" font-size="7.6" text-anchor="end" font-style="italic" fill="#1a1a1a">spi1a</text>
<line x1="237.2" y1="429.7" x2="237.2" y2="432.8" stroke="#3a3a3a" stroke-width="1"/>
<text transform="translate(239,438.4) rotate(-45)" font-size="7.6" text-anchor="end" font-style="italic" fill="#1a1a1a">spi1b</text>
<line x1="250.92" y1="429.7" x2="250.92" y2="432.8" stroke="#3a3a3a" stroke-width="1"/>
<text transform="translate(252.72,438.4) rotate(-45)" font-size="7.6" text-anchor="end" font-style="italic" fill="#1a1a1a">cd74a</text>
<line x1="264.64" y1="429.7" x2="264.64" y2="432.8" stroke="#3a3a3a" stroke-width="1"/>
<text transform="translate(266.44,438.4) rotate(-45)" font-size="7.6" text-anchor="end" font-style="italic" fill="#1a1a1a">mhc2b</text>
<line x1="278.36" y1="429.7" x2="278.36" y2="432.8" stroke="#3a3a3a" stroke-width="1"/>
<text transform="translate(280.16,438.4) rotate(-45)" font-size="7.6" text-anchor="end" font-style="italic" fill="#1a1a1a">mhc2dab</text>
<line x1="292.08" y1="429.7" x2="292.08" y2="432.8" stroke="#3a3a3a" stroke-width="1"/>
<text transform="translate(293.88,438.4) rotate(-45)" font-size="7.6" text-anchor="end" font-style="italic" fill="#1a1a1a">cxcr4b</text>
<line x1="305.8" y1="429.7" x2="305.8" y2="432.8" stroke="#3a3a3a" stroke-width="1"/>
<text transform="translate(307.6,438.4) rotate(-45)" font-size="7.6" text-anchor="end" font-style="italic" fill="#1a1a1a">itgb2</text>
<line x1="319.52" y1="429.7" x2="319.52" y2="432.8" stroke="#3a3a3a" stroke-width="1"/>
<text transform="translate(321.32,438.4) rotate(-45)" font-size="7.6" text-anchor="end" font-style="italic" fill="#1a1a1a">mmp13a</text>
<line x1="333.24" y1="429.7" x2="333.24" y2="432.8" stroke="#3a3a3a" stroke-width="1"/>
<text transform="translate(335.04,438.4) rotate(-45)" font-size="7.6" text-anchor="end" font-style="italic" fill="#1a1a1a">tnfa</text>
<line x1="346.96" y1="429.7" x2="346.96" y2="432.8" stroke="#3a3a3a" stroke-width="1"/>
<text transform="translate(348.76,438.4) rotate(-45)" font-size="7.6" text-anchor="end" font-style="italic" fill="#1a1a1a">tnfb</text>
<text x="81.5" y="386.7" font-size="8" text-anchor="end">WT</text>
<text x="81.5" y="405.1" font-size="8" text-anchor="end" font-style="italic" fill="#111">csf1ra<tspan font-size="5.6" dy="-3">Δ5bp</tspan></text>
<text x="81.5" y="422.4" font-size="8" text-anchor="end" font-style="italic" fill="#111">csf1rb<tspan font-size="5.6" dy="-3">Δ4bp</tspan></text>
<circle cx="59.4" cy="501.6" r="4.3" fill="#e890d8"/>
<circle cx="59.4" cy="518.9" r="5.8" fill="#f818d8"/>
<circle cx="59.4" cy="536.1" r="5.6" fill="#f818d8"/>
<circle cx="73.13" cy="501.6" r="0.8" fill="#e8a0d8"/>
<circle cx="73.13" cy="518.9" r="0.5" fill="#eed0e8"/>
<circle cx="73.13" cy="536.1" r="0.5" fill="#eed0e8"/>
<circle cx="86.86" cy="501.6" r="1.3" fill="#e8a0d8"/>
<circle cx="86.86" cy="518.9" r="2.1" fill="#e0a0d0"/>
<circle cx="86.86" cy="536.1" r="1.2" fill="#e8a0d8"/>
<circle cx="100.59" cy="501.6" r="1.9" fill="#f070e0"/>
<circle cx="100.59" cy="518.9" r="2.5" fill="#f838e0"/>
<circle cx="100.59" cy="536.1" r="2.5" fill="#f838e0"/>
<circle cx="114.32" cy="501.6" r="6.4" fill="#e898d8"/>
<circle cx="114.32" cy="518.9" r="6.5" fill="#f810d8"/>
<circle cx="114.32" cy="536.1" r="6.5" fill="#f070e0"/>
<circle cx="128.05" cy="501.6" r="5.7" fill="#ec88dc"/>
<circle cx="128.05" cy="518.9" r="6.3" fill="#f428dc"/>
<circle cx="128.05" cy="536.1" r="6.75" fill="#f810d8"/>
<circle cx="141.78" cy="501.6" r="3.85" fill="#ec88dc"/>
<circle cx="141.78" cy="518.9" r="5" fill="#f070e0"/>
<circle cx="141.78" cy="536.1" r="5" fill="#f818d8"/>
<circle cx="155.51" cy="501.6" r="6.5" fill="#f070e0"/>
<circle cx="155.51" cy="518.9" r="6.6" fill="#f810d8"/>
<circle cx="155.51" cy="536.1" r="6.8" fill="#f810d8"/>
<circle cx="169.24" cy="501.6" r="5.15" fill="#e8a0d8"/>
<circle cx="169.24" cy="518.9" r="5.9" fill="#ec88dc"/>
<circle cx="169.24" cy="536.1" r="6.3" fill="#f810d8"/>
<circle cx="182.97" cy="501.6" r="1.2" fill="#e8a0d8"/>
<circle cx="182.97" cy="518.9" r="2.15" fill="#f060e0"/>
<circle cx="182.97" cy="536.1" r="1.75" fill="#ec88dc"/>
<circle cx="196.7" cy="501.6" r="2" fill="#f040e0"/>
<circle cx="196.7" cy="518.9" r="2.9" fill="#f810d8"/>
<circle cx="196.7" cy="536.1" r="2.3" fill="#f818d8"/>
<circle cx="210.43" cy="501.6" r="4.3" fill="#f070e0"/>
<circle cx="210.43" cy="518.9" r="3.85" fill="#ec88dc"/>
<circle cx="210.43" cy="536.1" r="3.45" fill="#e898d8"/>
<circle cx="224.16" cy="501.6" r="4.1" fill="#d8b8d0"/>
<circle cx="224.16" cy="518.9" r="6.4" fill="#e8a0d8"/>
<circle cx="224.16" cy="536.1" r="5.5" fill="#e8a0d8"/>
<circle cx="237.89" cy="501.6" r="1.2" fill="#e0a0d8"/>
<circle cx="237.89" cy="518.9" r="2.15" fill="#e898d8"/>
<circle cx="237.89" cy="536.1" r="1.7" fill="#e8a0d8"/>
<circle cx="251.62" cy="501.6" r="1.85" fill="#e0a0d8"/>
<circle cx="251.62" cy="518.9" r="3.85" fill="#e0a0d8"/>
<circle cx="251.62" cy="536.1" r="2.15" fill="#e0a8d8"/>
<circle cx="265.35" cy="501.6" r="2.75" fill="#d8b0d0"/>
<circle cx="265.35" cy="518.9" r="3.1" fill="#d8b0d0"/>
<circle cx="265.35" cy="536.1" r="4.75" fill="#ec88dc"/>
<circle cx="279.08" cy="501.6" r="6.3" fill="#dca8d0"/>
<circle cx="279.08" cy="518.9" r="6.75" fill="#e0a0d4"/>
<circle cx="279.08" cy="536.1" r="6.9" fill="#f060e0"/>
<circle cx="292.81" cy="501.6" r="2.3" fill="#e0a0d8"/>
<circle cx="292.81" cy="518.9" r="3.15" fill="#e890d8"/>
<circle cx="292.81" cy="536.1" r="4.85" fill="#f810d8"/>
<circle cx="306.54" cy="501.6" r="4.4" fill="#f818d8"/>
<circle cx="306.54" cy="518.9" r="4.1" fill="#f070e0"/>
<circle cx="306.54" cy="536.1" r="5.75" fill="#f810d8"/>
<circle cx="320.27" cy="501.6" r="2.7" fill="#e090d8"/>
<circle cx="320.27" cy="518.9" r="2.9" fill="#e0a0d8"/>
<circle cx="320.27" cy="536.1" r="3.85" fill="#f060e0"/>
<circle cx="334" cy="501.6" r="6.75" fill="#ec88dc"/>
<circle cx="334" cy="518.9" r="6.6" fill="#f810d8"/>
<circle cx="334" cy="536.1" r="6.6" fill="#f810d8"/>
<circle cx="347.73" cy="501.6" r="2.45" fill="#e0a0d8"/>
<circle cx="347.73" cy="518.9" r="0.7" fill="#e8b0e0"/>
<circle cx="347.73" cy="536.1" r="5.6" fill="#f810d8"/>
<circle cx="361.46" cy="501.6" r="1.1" fill="#f070e0"/>
<circle cx="361.46" cy="518.9" r="0.9" fill="#e8a0d8"/>
<circle cx="361.46" cy="536.1" r="1.9" fill="#f810d8"/>
<circle cx="375.19" cy="501.6" r="4.25" fill="#e890d8"/>
<circle cx="375.19" cy="518.9" r="5.4" fill="#ec80dc"/>
<circle cx="375.19" cy="536.1" r="6.7" fill="#f810d8"/>
<circle cx="388.92" cy="501.6" r="0.9" fill="#e0a0d8"/>
<circle cx="388.92" cy="518.9" r="1.9" fill="#d8a8d0"/>
<circle cx="388.92" cy="536.1" r="1.9" fill="#d8a8d0"/>
<circle cx="402.65" cy="501.6" r="0.5" fill="#eed0e8"/>
<circle cx="402.65" cy="518.9" r="1" fill="#e0a0d8"/>
<circle cx="402.65" cy="536.1" r="1.4" fill="#e890d8"/>
<circle cx="416.38" cy="501.6" r="2.15" fill="#d0a8d0"/>
<circle cx="416.38" cy="518.9" r="2.85" fill="#d8a8d0"/>
<circle cx="416.38" cy="536.1" r="3.1" fill="#d8a8d0"/>
<circle cx="430.11" cy="501.6" r="1.3" fill="#e070d8"/>
<circle cx="430.11" cy="518.9" r="2.15" fill="#ec70dc"/>
<circle cx="430.11" cy="536.1" r="2.6" fill="#f838e0"/>
<circle cx="443.84" cy="501.6" r="0.5" fill="#eed0e8"/>
<circle cx="443.84" cy="518.9" r="1.2" fill="#e0a0d8"/>
<circle cx="443.84" cy="536.1" r="1.7" fill="#f810d8"/>
<circle cx="457.57" cy="501.6" r="1.7" fill="#d0a8c8"/>
<circle cx="457.57" cy="518.9" r="2.7" fill="#d8a8d0"/>
<circle cx="457.57" cy="536.1" r="3.25" fill="#d8a8d0"/>
<circle cx="471.3" cy="501.6" r="1.55" fill="#e890d8"/>
<circle cx="471.3" cy="518.9" r="1.85" fill="#e880d8"/>
<circle cx="471.3" cy="536.1" r="2" fill="#e880d8"/>
<circle cx="485.03" cy="501.6" r="1" fill="#e0a0d8"/>
<circle cx="485.03" cy="518.9" r="1.2" fill="#e0a0d8"/>
<circle cx="485.03" cy="536.1" r="1.3" fill="#e0a0d8"/>
<circle cx="498.76" cy="501.6" r="0.6" fill="#e8c0e0"/>
<circle cx="498.76" cy="518.9" r="0.9" fill="#e0a0d8"/>
<circle cx="498.76" cy="536.1" r="1.1" fill="#e0a0d8"/>
<line x1="47.5" y1="493.5" x2="47.5" y2="547" stroke="#3a3a3a" stroke-width="1.4"/>
<line x1="46.8" y1="546.3" x2="507.5" y2="546.3" stroke="#3a3a3a" stroke-width="1.4"/>
<line x1="44.5" y1="501.6" x2="47.5" y2="501.6" stroke="#3a3a3a" stroke-width="1"/>
<line x1="44.5" y1="518.9" x2="47.5" y2="518.9" stroke="#3a3a3a" stroke-width="1"/>
<line x1="44.5" y1="536.1" x2="47.5" y2="536.1" stroke="#3a3a3a" stroke-width="1"/>
<line x1="59.4" y1="546.3" x2="59.4" y2="549.4" stroke="#3a3a3a" stroke-width="1"/>
<text transform="translate(61.2,555) rotate(-45)" font-size="7.6" text-anchor="end" font-style="italic" fill="#1a1a1a">cpa5</text>
<line x1="73.13" y1="546.3" x2="73.13" y2="549.4" stroke="#3a3a3a" stroke-width="1"/>
<text transform="translate(74.93,555) rotate(-45)" font-size="7.6" text-anchor="end" font-style="italic" fill="#1a1a1a">csf1ra</text>
<line x1="86.86" y1="546.3" x2="86.86" y2="549.4" stroke="#3a3a3a" stroke-width="1"/>
<text transform="translate(88.66,555) rotate(-45)" font-size="7.6" text-anchor="end" font-style="italic" fill="#1a1a1a">csf1rb</text>
<line x1="100.59" y1="546.3" x2="100.59" y2="549.4" stroke="#3a3a3a" stroke-width="1"/>
<text transform="translate(102.39,555) rotate(-45)" font-size="7.6" text-anchor="end" font-style="italic" fill="#1a1a1a">csf3r</text>
<line x1="114.32" y1="546.3" x2="114.32" y2="549.4" stroke="#3a3a3a" stroke-width="1"/>
<text transform="translate(116.12,555) rotate(-45)" font-size="7.6" text-anchor="end" font-style="italic" fill="#1a1a1a">lyz</text>
<line x1="128.05" y1="546.3" x2="128.05" y2="549.4" stroke="#3a3a3a" stroke-width="1"/>
<text transform="translate(129.85,555) rotate(-45)" font-size="7.6" text-anchor="end" font-style="italic" fill="#1a1a1a">mpx</text>
<line x1="141.78" y1="546.3" x2="141.78" y2="549.4" stroke="#3a3a3a" stroke-width="1"/>
<text transform="translate(143.58,555) rotate(-45)" font-size="7.6" text-anchor="end" font-style="italic" fill="#1a1a1a">nccrp1</text>
<line x1="155.51" y1="546.3" x2="155.51" y2="549.4" stroke="#3a3a3a" stroke-width="1"/>
<text transform="translate(157.31,555) rotate(-45)" font-size="7.6" text-anchor="end" font-style="italic" fill="#1a1a1a">npsn</text>
<line x1="169.24" y1="546.3" x2="169.24" y2="549.4" stroke="#3a3a3a" stroke-width="1"/>
<text transform="translate(171.04,555) rotate(-45)" font-size="7.6" text-anchor="end" font-style="italic" fill="#1a1a1a">spi1b</text>
<line x1="182.97" y1="546.3" x2="182.97" y2="549.4" stroke="#3a3a3a" stroke-width="1"/>
<text transform="translate(184.77,555) rotate(-45)" font-size="7.6" text-anchor="end" font-style="italic" fill="#1a1a1a">cblb</text>
<line x1="196.7" y1="546.3" x2="196.7" y2="549.4" stroke="#3a3a3a" stroke-width="1"/>
<text transform="translate(198.5,555) rotate(-45)" font-size="7.6" text-anchor="end" font-style="italic" fill="#1a1a1a">cebp1</text>
<line x1="210.43" y1="546.3" x2="210.43" y2="549.4" stroke="#3a3a3a" stroke-width="1"/>
<text transform="translate(212.23,555) rotate(-45)" font-size="7.6" text-anchor="end" font-style="italic" fill="#1a1a1a">cebpa</text>
<line x1="224.16" y1="546.3" x2="224.16" y2="549.4" stroke="#3a3a3a" stroke-width="1"/>
<text transform="translate(225.96,555) rotate(-45)" font-size="7.6" text-anchor="end" font-style="italic" fill="#1a1a1a">cebpb</text>
<line x1="237.89" y1="546.3" x2="237.89" y2="549.4" stroke="#3a3a3a" stroke-width="1"/>
<text transform="translate(239.69,555) rotate(-45)" font-size="7.6" text-anchor="end" font-style="italic" fill="#1a1a1a">cebpg</text>
<line x1="251.62" y1="546.3" x2="251.62" y2="549.4" stroke="#3a3a3a" stroke-width="1"/>
<text transform="translate(253.42,555) rotate(-45)" font-size="7.6" text-anchor="end" font-style="italic" fill="#1a1a1a">myb</text>
<line x1="265.35" y1="546.3" x2="265.35" y2="549.4" stroke="#3a3a3a" stroke-width="1"/>
<text transform="translate(267.15,555) rotate(-45)" font-size="7.6" text-anchor="end" font-style="italic" fill="#1a1a1a">ccr9a</text>
<line x1="279.08" y1="546.3" x2="279.08" y2="549.4" stroke="#3a3a3a" stroke-width="1"/>
<text transform="translate(280.88,555) rotate(-45)" font-size="7.6" text-anchor="end" font-style="italic" fill="#1a1a1a">cxcr4b</text>
<line x1="292.81" y1="546.3" x2="292.81" y2="549.4" stroke="#3a3a3a" stroke-width="1"/>
<text transform="translate(294.61,555) rotate(-45)" font-size="7.6" text-anchor="end" font-style="italic" fill="#1a1a1a">il34</text>
<line x1="306.54" y1="546.3" x2="306.54" y2="549.4" stroke="#3a3a3a" stroke-width="1"/>
<text transform="translate(308.34,555) rotate(-45)" font-size="7.6" text-anchor="end" font-style="italic" fill="#1a1a1a">illr4</text>
<line x1="320.27" y1="546.3" x2="320.27" y2="549.4" stroke="#3a3a3a" stroke-width="1"/>
<text transform="translate(322.07,555) rotate(-45)" font-size="7.6" text-anchor="end" font-style="italic" fill="#1a1a1a">itgb2</text>
<line x1="334" y1="546.3" x2="334" y2="549.4" stroke="#3a3a3a" stroke-width="1"/>
<text transform="translate(335.8,555) rotate(-45)" font-size="7.6" text-anchor="end" font-style="italic" fill="#1a1a1a">lect2l</text>
<line x1="347.73" y1="546.3" x2="347.73" y2="549.4" stroke="#3a3a3a" stroke-width="1"/>
<text transform="translate(349.53,555) rotate(-45)" font-size="7.6" text-anchor="end" font-style="italic" fill="#1a1a1a">mmp13a</text>
<line x1="361.46" y1="546.3" x2="361.46" y2="549.4" stroke="#3a3a3a" stroke-width="1"/>
<text transform="translate(363.26,555) rotate(-45)" font-size="7.6" text-anchor="end" font-style="italic" fill="#1a1a1a">ifngr1</text>
<line x1="375.19" y1="546.3" x2="375.19" y2="549.4" stroke="#3a3a3a" stroke-width="1"/>
<text transform="translate(376.99,555) rotate(-45)" font-size="7.6" text-anchor="end" font-style="italic" fill="#1a1a1a">il6r</text>
<line x1="388.92" y1="546.3" x2="388.92" y2="549.4" stroke="#3a3a3a" stroke-width="1"/>
<text transform="translate(390.72,555) rotate(-45)" font-size="7.6" text-anchor="end" font-style="italic" fill="#1a1a1a">irf1b</text>
<line x1="402.65" y1="546.3" x2="402.65" y2="549.4" stroke="#3a3a3a" stroke-width="1"/>
<text transform="translate(404.45,555) rotate(-45)" font-size="7.6" text-anchor="end" font-style="italic" fill="#1a1a1a">irf9</text>
<line x1="416.38" y1="546.3" x2="416.38" y2="549.4" stroke="#3a3a3a" stroke-width="1"/>
<text transform="translate(418.18,555) rotate(-45)" font-size="7.6" text-anchor="end" font-style="italic" fill="#1a1a1a">jak1</text>
<line x1="430.11" y1="546.3" x2="430.11" y2="549.4" stroke="#3a3a3a" stroke-width="1"/>
<text transform="translate(431.91,555) rotate(-45)" font-size="7.6" text-anchor="end" font-style="italic" fill="#1a1a1a">jak2b</text>
<line x1="443.84" y1="546.3" x2="443.84" y2="549.4" stroke="#3a3a3a" stroke-width="1"/>
<text transform="translate(445.64,555) rotate(-45)" font-size="7.6" text-anchor="end" font-style="italic" fill="#1a1a1a">jak3</text>
<line x1="457.57" y1="546.3" x2="457.57" y2="549.4" stroke="#3a3a3a" stroke-width="1"/>
<text transform="translate(459.37,555) rotate(-45)" font-size="7.6" text-anchor="end" font-style="italic" fill="#1a1a1a">stat1a</text>
<line x1="471.3" y1="546.3" x2="471.3" y2="549.4" stroke="#3a3a3a" stroke-width="1"/>
<text transform="translate(473.1,555) rotate(-45)" font-size="7.6" text-anchor="end" font-style="italic" fill="#1a1a1a">stat2</text>
<line x1="485.03" y1="546.3" x2="485.03" y2="549.4" stroke="#3a3a3a" stroke-width="1"/>
<text transform="translate(486.83,555) rotate(-45)" font-size="7.6" text-anchor="end" font-style="italic" fill="#1a1a1a">stat3</text>
<line x1="498.76" y1="546.3" x2="498.76" y2="549.4" stroke="#3a3a3a" stroke-width="1"/>
<text transform="translate(500.56,555) rotate(-45)" font-size="7.6" text-anchor="end" font-style="italic" fill="#1a1a1a">stat5a</text>
<text x="41.7" y="504.4" font-size="8" text-anchor="end">WT</text>
<text x="41.7" y="522.8" font-size="8" text-anchor="end" font-style="italic" fill="#111">csf1ra<tspan font-size="5.6" dy="-3">Δ5bp</tspan></text>
<text x="41.7" y="540" font-size="8" text-anchor="end" font-style="italic" fill="#111">csf1rb<tspan font-size="5.6" dy="-3">Δ4bp</tspan></text>
<line x1="87.9" y1="463.8" x2="236.7" y2="463.8" stroke="#555555" stroke-width="1.2"/>
<line x1="238.7" y1="463.8" x2="277.1" y2="463.8" stroke="#555555" stroke-width="1.2"/>
<line x1="279.1" y1="463.8" x2="354.7" y2="463.8" stroke="#555555" stroke-width="1.2"/>
<text x="162.4" y="474.4" font-size="8.8" text-anchor="middle" fill="#111" stroke="#111" stroke-width="0.22" textLength="59" lengthAdjust="spacingAndGlyphs">Macrophage markers</text>
<text x="257.9" y="474.4" font-size="8.8" text-anchor="middle" fill="#111" stroke="#111" stroke-width="0.22" textLength="19.3" lengthAdjust="spacingAndGlyphs">Antigen</text>
<text x="257.9" y="484.8" font-size="8.8" text-anchor="middle" fill="#111" stroke="#111" stroke-width="0.22" textLength="35.2" lengthAdjust="spacingAndGlyphs">presentation</text>
<text x="316.9" y="474.4" font-size="8.8" text-anchor="middle" fill="#111" stroke="#111" stroke-width="0.22" textLength="40.4" lengthAdjust="spacingAndGlyphs">Chemokines &amp;</text>
<text x="316.9" y="484.8" font-size="8.8" text-anchor="middle" fill="#111" stroke="#111" stroke-width="0.22" textLength="61.5" lengthAdjust="spacingAndGlyphs">inflammation markers</text>
<line x1="47.2" y1="581" x2="169.8" y2="581" stroke="#555555" stroke-width="1.2"/>
<line x1="171.7" y1="581" x2="252" y2="581" stroke="#555555" stroke-width="1.2"/>
<line x1="254.8" y1="581" x2="347.2" y2="581" stroke="#555555" stroke-width="1.2"/>
<line x1="349" y1="581" x2="504.6" y2="581" stroke="#555555" stroke-width="1.2"/>
<text x="108.6" y="589.8" font-size="8.8" text-anchor="middle" fill="#111" stroke="#111" stroke-width="0.22" textLength="59" lengthAdjust="spacingAndGlyphs">Granulocyte markers</text>
<text x="212.2" y="589.8" font-size="8.8" text-anchor="middle" fill="#111" stroke="#111" stroke-width="0.22" textLength="45" lengthAdjust="spacingAndGlyphs">Myeloid markers</text>
<text x="297.2" y="589.8" font-size="8.8" text-anchor="middle" fill="#111" stroke="#111" stroke-width="0.22" textLength="40.4" lengthAdjust="spacingAndGlyphs">Chemokines &amp;</text>
<text x="297.2" y="600.6" font-size="8.8" text-anchor="middle" fill="#111" stroke="#111" stroke-width="0.22" textLength="61.5" lengthAdjust="spacingAndGlyphs">inflammation markers</text>
<text x="426.8" y="589.8" font-size="8.8" text-anchor="middle" fill="#111" stroke="#111" stroke-width="0.22" textLength="54.8" lengthAdjust="spacingAndGlyphs"><tspan font-weight="bold" font-style="italic">Ifng1</tspan> &amp; <tspan font-weight="bold" font-style="italic">Il6</tspan> signaling</text>
<text x="454" y="306.3" font-size="7.2" text-anchor="middle" font-weight="bold" fill="#111">% Expressed</text>
<circle cx="452.6" cy="312.9" r="0.35" fill="#000"/>
<text x="462" y="315.3" font-size="7" fill="#222">0</text>
<circle cx="452.6" cy="320.6" r="3.3" fill="#000"/>
<text x="462" y="323" font-size="7" fill="#222">25</text>
<circle cx="452.6" cy="329.8" r="5.05" fill="#000"/>
<text x="462" y="332.2" font-size="7" fill="#222">50</text>
<circle cx="452.6" cy="342.3" r="6.15" fill="#000"/>
<text x="462" y="344.7" font-size="7" fill="#222">75</text>
<circle cx="452.6" cy="355.6" r="7.1" fill="#000"/>
<text x="462" y="358" font-size="7" fill="#222">100</text>
<text x="418.5" y="381.6" font-size="7.6" font-weight="bold" fill="#111">Average expression</text>
<defs>
<linearGradient id="gg" x1="0" y1="0" x2="0" y2="1"><stop offset="0" stop-color="#78ab10"/><stop offset="1" stop-color="#d6d6d2"/></linearGradient>
<linearGradient id="gb" x1="0" y1="0" x2="0" y2="1"><stop offset="0" stop-color="#5f98fb"/><stop offset="1" stop-color="#d6d6dc"/></linearGradient>
<linearGradient id="go" x1="0" y1="0" x2="0" y2="1"><stop offset="0" stop-color="#fd9e0e"/><stop offset="1" stop-color="#d8d4d0"/></linearGradient>
<linearGradient id="gm" x1="0" y1="0" x2="0" y2="1"><stop offset="0" stop-color="#f810e0"/><stop offset="1" stop-color="#d8d2d8"/></linearGradient>
</defs>
<rect x="438" y="387.7" width="7.5" height="37.2" fill="url(#gg)"/>
<text x="448.3" y="393.7" font-size="7" fill="#222">2</text>
<text x="448.3" y="403.7" font-size="7" fill="#222">1</text>
<text x="448.3" y="413.7" font-size="7" fill="#222">0</text>
<text x="448.3" y="423.7" font-size="7" fill="#222">−1</text>
<rect x="463" y="387.7" width="7.5" height="37.2" fill="url(#gb)"/>
<text x="473.3" y="393.7" font-size="7" fill="#222">2</text>
<text x="473.3" y="403.7" font-size="7" fill="#222">1</text>
<text x="473.3" y="413.7" font-size="7" fill="#222">0</text>
<text x="473.3" y="423.7" font-size="7" fill="#222">−1</text>
<rect x="438" y="428.9" width="7.5" height="37.2" fill="url(#go)"/>
<text x="448.3" y="434.9" font-size="7" fill="#222">2</text>
<text x="448.3" y="444.9" font-size="7" fill="#222">1</text>
<text x="448.3" y="454.9" font-size="7" fill="#222">0</text>
<text x="448.3" y="464.9" font-size="7" fill="#222">−1</text>
<rect x="463" y="428.9" width="7.5" height="37.2" fill="url(#gm)"/>
<text x="473.3" y="434.9" font-size="7" fill="#222">2</text>
<text x="473.3" y="444.9" font-size="7" fill="#222">1</text>
<text x="473.3" y="454.9" font-size="7" fill="#222">0</text>
<text x="473.3" y="464.9" font-size="7" fill="#222">−1</text>
<rect x="0.5" y="0.5" width="518.8" height="607.6" fill="none" stroke="#000" stroke-width="1.1"/>
</svg>
</body></html>
